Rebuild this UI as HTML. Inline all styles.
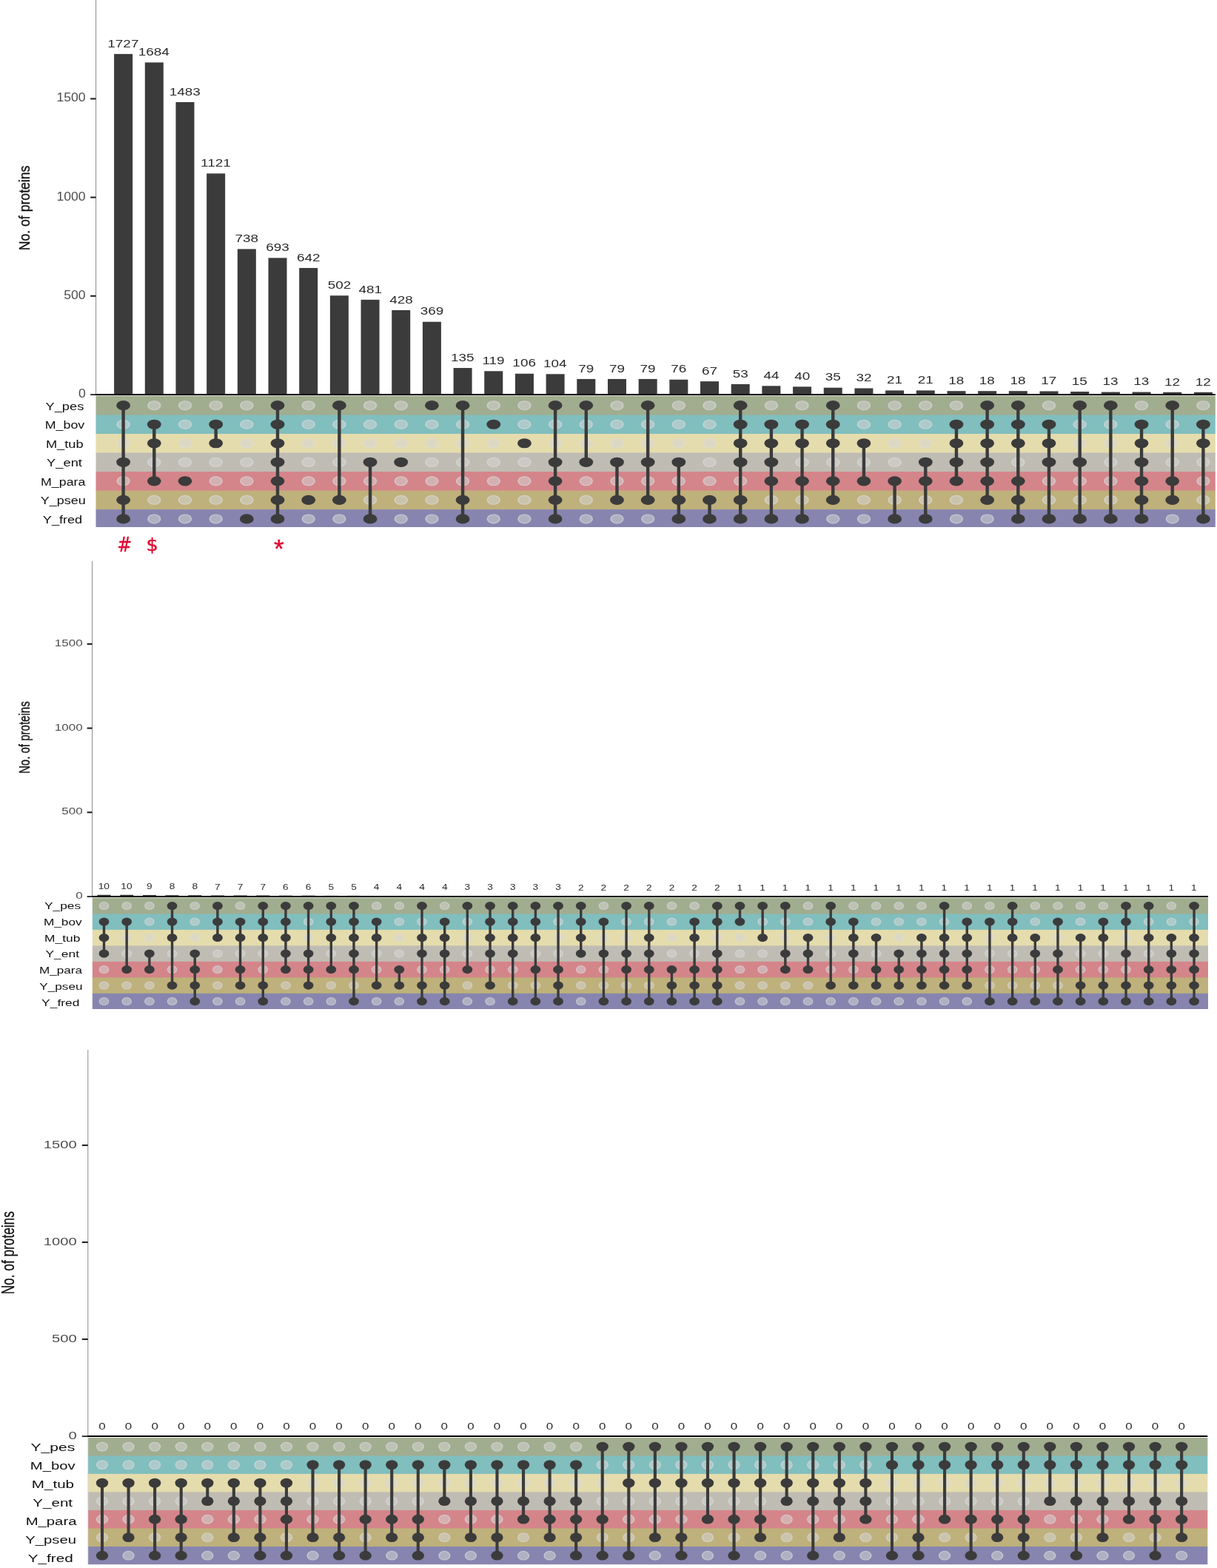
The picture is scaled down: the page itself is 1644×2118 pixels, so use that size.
<!DOCTYPE html>
<html lang="en"><head><meta charset="utf-8"><title>UpSet plot</title>
<style>
html,body{margin:0;padding:0;background:#fff}
body{width:1644px;height:2118px;overflow:hidden}
svg{display:block;font-family:"Liberation Sans",sans-serif}
</style></head><body>
<svg width="1644" height="2118" viewBox="0 0 1644 2118">
<defs><radialGradient id="ld"><stop offset="0" stop-color="#d4d4d4" stop-opacity=".54"/><stop offset=".72" stop-color="#d4d4d4" stop-opacity=".54"/><stop offset=".86" stop-color="#dadada" stop-opacity=".74"/><stop offset="1" stop-color="#dadada" stop-opacity=".74"/></radialGradient></defs>
<rect width="1644" height="2118" fill="#fff"/>
<rect x="129.5" y="534.6" width="1512.3" height="26.57" fill="#A1AD8F"/>
<rect x="129.5" y="560.47" width="1512.3" height="26.23" fill="#81BEBE"/>
<rect x="129.5" y="586" width="1512.3" height="26.23" fill="#E5DCAD"/>
<rect x="129.5" y="611.53" width="1512.3" height="26.23" fill="#BFBDB3"/>
<rect x="129.5" y="637.06" width="1512.3" height="26.23" fill="#D4858A"/>
<rect x="129.5" y="662.59" width="1512.3" height="26.23" fill="#BFB17B"/>
<rect x="129.5" y="688.12" width="1512.3" height="23.88" fill="#8785AF"/>
<rect x="129.1" y="0" width="1" height="533" fill="#8a8a8a"/>
<rect x="122.2" y="532.2" width="7.4" height="1.8" fill="#222"/>
<rect x="122.2" y="398.75" width="7.4" height="2.1" fill="#222"/>
<rect x="122.2" y="265.55" width="7.4" height="2.1" fill="#222"/>
<rect x="122.2" y="132.35" width="7.4" height="2.1" fill="#222"/>
<rect x="154.1" y="72.93" width="25" height="460.07" fill="#3b3b3b"/>
<rect x="195.78" y="84.38" width="25" height="448.62" fill="#3b3b3b"/>
<rect x="237.46" y="137.93" width="25" height="395.07" fill="#3b3b3b"/>
<rect x="279.14" y="234.37" width="25" height="298.63" fill="#3b3b3b"/>
<rect x="320.82" y="336.4" width="25" height="196.6" fill="#3b3b3b"/>
<rect x="362.5" y="348.38" width="25" height="184.62" fill="#3b3b3b"/>
<rect x="404.18" y="361.97" width="25" height="171.03" fill="#3b3b3b"/>
<rect x="445.86" y="399.27" width="25" height="133.73" fill="#3b3b3b"/>
<rect x="487.54" y="404.86" width="25" height="128.14" fill="#3b3b3b"/>
<rect x="529.22" y="418.98" width="25" height="114.02" fill="#3b3b3b"/>
<rect x="570.9" y="434.7" width="25" height="98.3" fill="#3b3b3b"/>
<rect x="612.58" y="497.04" width="25" height="35.96" fill="#3b3b3b"/>
<rect x="654.26" y="501.3" width="25" height="31.7" fill="#3b3b3b"/>
<rect x="695.94" y="504.76" width="25" height="28.24" fill="#3b3b3b"/>
<rect x="737.62" y="505.29" width="25" height="27.71" fill="#3b3b3b"/>
<rect x="779.3" y="511.95" width="25" height="21.05" fill="#3b3b3b"/>
<rect x="820.98" y="511.95" width="25" height="21.05" fill="#3b3b3b"/>
<rect x="862.66" y="511.95" width="25" height="21.05" fill="#3b3b3b"/>
<rect x="904.34" y="512.75" width="25" height="20.25" fill="#3b3b3b"/>
<rect x="946.02" y="515.15" width="25" height="17.85" fill="#3b3b3b"/>
<rect x="987.7" y="518.88" width="25" height="14.12" fill="#3b3b3b"/>
<rect x="1029.38" y="521.28" width="25" height="11.72" fill="#3b3b3b"/>
<rect x="1071.06" y="522.34" width="25" height="10.66" fill="#3b3b3b"/>
<rect x="1112.74" y="523.68" width="25" height="9.32" fill="#3b3b3b"/>
<rect x="1154.42" y="524.48" width="25" height="8.52" fill="#3b3b3b"/>
<rect x="1196.1" y="527.41" width="25" height="5.59" fill="#3b3b3b"/>
<rect x="1237.78" y="527.41" width="25" height="5.59" fill="#3b3b3b"/>
<rect x="1279.46" y="528.2" width="25" height="4.8" fill="#3b3b3b"/>
<rect x="1321.14" y="528.2" width="25" height="4.8" fill="#3b3b3b"/>
<rect x="1362.82" y="528.2" width="25" height="4.8" fill="#3b3b3b"/>
<rect x="1404.5" y="528.47" width="25" height="4.53" fill="#3b3b3b"/>
<rect x="1446.18" y="529" width="25" height="4" fill="#3b3b3b"/>
<rect x="1487.86" y="529.54" width="25" height="3.46" fill="#3b3b3b"/>
<rect x="1529.54" y="529.54" width="25" height="3.46" fill="#3b3b3b"/>
<rect x="1571.22" y="529.8" width="25" height="3.2" fill="#3b3b3b"/>
<rect x="1612.9" y="529.8" width="25" height="3.2" fill="#3b3b3b"/>
<rect x="129.1" y="532" width="1512.7" height="2" fill="#000"/>
<g fill="url(#ld)"><ellipse cx="166.6" cy="573.23" rx="9.2" ry="6.5"/><ellipse cx="166.6" cy="598.76" rx="9.2" ry="6.5"/><ellipse cx="166.6" cy="649.82" rx="9.2" ry="6.5"/><ellipse cx="208.28" cy="547.7" rx="9.2" ry="6.5"/><ellipse cx="208.28" cy="624.29" rx="9.2" ry="6.5"/><ellipse cx="208.28" cy="675.35" rx="9.2" ry="6.5"/><ellipse cx="208.28" cy="700.88" rx="9.2" ry="6.5"/><ellipse cx="249.96" cy="547.7" rx="9.2" ry="6.5"/><ellipse cx="249.96" cy="573.23" rx="9.2" ry="6.5"/><ellipse cx="249.96" cy="598.76" rx="9.2" ry="6.5"/><ellipse cx="249.96" cy="624.29" rx="9.2" ry="6.5"/><ellipse cx="249.96" cy="675.35" rx="9.2" ry="6.5"/><ellipse cx="249.96" cy="700.88" rx="9.2" ry="6.5"/><ellipse cx="291.64" cy="547.7" rx="9.2" ry="6.5"/><ellipse cx="291.64" cy="624.29" rx="9.2" ry="6.5"/><ellipse cx="291.64" cy="649.82" rx="9.2" ry="6.5"/><ellipse cx="291.64" cy="675.35" rx="9.2" ry="6.5"/><ellipse cx="291.64" cy="700.88" rx="9.2" ry="6.5"/><ellipse cx="333.32" cy="547.7" rx="9.2" ry="6.5"/><ellipse cx="333.32" cy="573.23" rx="9.2" ry="6.5"/><ellipse cx="333.32" cy="598.76" rx="9.2" ry="6.5"/><ellipse cx="333.32" cy="624.29" rx="9.2" ry="6.5"/><ellipse cx="333.32" cy="649.82" rx="9.2" ry="6.5"/><ellipse cx="333.32" cy="675.35" rx="9.2" ry="6.5"/><ellipse cx="416.68" cy="547.7" rx="9.2" ry="6.5"/><ellipse cx="416.68" cy="573.23" rx="9.2" ry="6.5"/><ellipse cx="416.68" cy="598.76" rx="9.2" ry="6.5"/><ellipse cx="416.68" cy="624.29" rx="9.2" ry="6.5"/><ellipse cx="416.68" cy="649.82" rx="9.2" ry="6.5"/><ellipse cx="416.68" cy="700.88" rx="9.2" ry="6.5"/><ellipse cx="458.36" cy="573.23" rx="9.2" ry="6.5"/><ellipse cx="458.36" cy="598.76" rx="9.2" ry="6.5"/><ellipse cx="458.36" cy="624.29" rx="9.2" ry="6.5"/><ellipse cx="458.36" cy="649.82" rx="9.2" ry="6.5"/><ellipse cx="458.36" cy="700.88" rx="9.2" ry="6.5"/><ellipse cx="500.04" cy="547.7" rx="9.2" ry="6.5"/><ellipse cx="500.04" cy="573.23" rx="9.2" ry="6.5"/><ellipse cx="500.04" cy="598.76" rx="9.2" ry="6.5"/><ellipse cx="500.04" cy="649.82" rx="9.2" ry="6.5"/><ellipse cx="500.04" cy="675.35" rx="9.2" ry="6.5"/><ellipse cx="541.72" cy="547.7" rx="9.2" ry="6.5"/><ellipse cx="541.72" cy="573.23" rx="9.2" ry="6.5"/><ellipse cx="541.72" cy="598.76" rx="9.2" ry="6.5"/><ellipse cx="541.72" cy="649.82" rx="9.2" ry="6.5"/><ellipse cx="541.72" cy="675.35" rx="9.2" ry="6.5"/><ellipse cx="541.72" cy="700.88" rx="9.2" ry="6.5"/><ellipse cx="583.4" cy="573.23" rx="9.2" ry="6.5"/><ellipse cx="583.4" cy="598.76" rx="9.2" ry="6.5"/><ellipse cx="583.4" cy="624.29" rx="9.2" ry="6.5"/><ellipse cx="583.4" cy="649.82" rx="9.2" ry="6.5"/><ellipse cx="583.4" cy="675.35" rx="9.2" ry="6.5"/><ellipse cx="583.4" cy="700.88" rx="9.2" ry="6.5"/><ellipse cx="625.08" cy="573.23" rx="9.2" ry="6.5"/><ellipse cx="625.08" cy="598.76" rx="9.2" ry="6.5"/><ellipse cx="625.08" cy="624.29" rx="9.2" ry="6.5"/><ellipse cx="625.08" cy="649.82" rx="9.2" ry="6.5"/><ellipse cx="666.76" cy="547.7" rx="9.2" ry="6.5"/><ellipse cx="666.76" cy="598.76" rx="9.2" ry="6.5"/><ellipse cx="666.76" cy="624.29" rx="9.2" ry="6.5"/><ellipse cx="666.76" cy="649.82" rx="9.2" ry="6.5"/><ellipse cx="666.76" cy="675.35" rx="9.2" ry="6.5"/><ellipse cx="666.76" cy="700.88" rx="9.2" ry="6.5"/><ellipse cx="708.44" cy="547.7" rx="9.2" ry="6.5"/><ellipse cx="708.44" cy="573.23" rx="9.2" ry="6.5"/><ellipse cx="708.44" cy="624.29" rx="9.2" ry="6.5"/><ellipse cx="708.44" cy="649.82" rx="9.2" ry="6.5"/><ellipse cx="708.44" cy="675.35" rx="9.2" ry="6.5"/><ellipse cx="708.44" cy="700.88" rx="9.2" ry="6.5"/><ellipse cx="750.12" cy="573.23" rx="9.2" ry="6.5"/><ellipse cx="750.12" cy="598.76" rx="9.2" ry="6.5"/><ellipse cx="791.8" cy="573.23" rx="9.2" ry="6.5"/><ellipse cx="791.8" cy="598.76" rx="9.2" ry="6.5"/><ellipse cx="791.8" cy="649.82" rx="9.2" ry="6.5"/><ellipse cx="791.8" cy="675.35" rx="9.2" ry="6.5"/><ellipse cx="791.8" cy="700.88" rx="9.2" ry="6.5"/><ellipse cx="833.48" cy="547.7" rx="9.2" ry="6.5"/><ellipse cx="833.48" cy="573.23" rx="9.2" ry="6.5"/><ellipse cx="833.48" cy="598.76" rx="9.2" ry="6.5"/><ellipse cx="833.48" cy="649.82" rx="9.2" ry="6.5"/><ellipse cx="833.48" cy="700.88" rx="9.2" ry="6.5"/><ellipse cx="875.16" cy="573.23" rx="9.2" ry="6.5"/><ellipse cx="875.16" cy="598.76" rx="9.2" ry="6.5"/><ellipse cx="875.16" cy="649.82" rx="9.2" ry="6.5"/><ellipse cx="875.16" cy="700.88" rx="9.2" ry="6.5"/><ellipse cx="916.84" cy="547.7" rx="9.2" ry="6.5"/><ellipse cx="916.84" cy="573.23" rx="9.2" ry="6.5"/><ellipse cx="916.84" cy="598.76" rx="9.2" ry="6.5"/><ellipse cx="916.84" cy="649.82" rx="9.2" ry="6.5"/><ellipse cx="958.52" cy="547.7" rx="9.2" ry="6.5"/><ellipse cx="958.52" cy="573.23" rx="9.2" ry="6.5"/><ellipse cx="958.52" cy="598.76" rx="9.2" ry="6.5"/><ellipse cx="958.52" cy="624.29" rx="9.2" ry="6.5"/><ellipse cx="958.52" cy="649.82" rx="9.2" ry="6.5"/><ellipse cx="1000.2" cy="649.82" rx="9.2" ry="6.5"/><ellipse cx="1041.88" cy="547.7" rx="9.2" ry="6.5"/><ellipse cx="1041.88" cy="675.35" rx="9.2" ry="6.5"/><ellipse cx="1083.56" cy="547.7" rx="9.2" ry="6.5"/><ellipse cx="1083.56" cy="624.29" rx="9.2" ry="6.5"/><ellipse cx="1083.56" cy="675.35" rx="9.2" ry="6.5"/><ellipse cx="1125.24" cy="624.29" rx="9.2" ry="6.5"/><ellipse cx="1125.24" cy="700.88" rx="9.2" ry="6.5"/><ellipse cx="1166.92" cy="547.7" rx="9.2" ry="6.5"/><ellipse cx="1166.92" cy="573.23" rx="9.2" ry="6.5"/><ellipse cx="1166.92" cy="624.29" rx="9.2" ry="6.5"/><ellipse cx="1166.92" cy="675.35" rx="9.2" ry="6.5"/><ellipse cx="1166.92" cy="700.88" rx="9.2" ry="6.5"/><ellipse cx="1208.6" cy="547.7" rx="9.2" ry="6.5"/><ellipse cx="1208.6" cy="573.23" rx="9.2" ry="6.5"/><ellipse cx="1208.6" cy="598.76" rx="9.2" ry="6.5"/><ellipse cx="1208.6" cy="624.29" rx="9.2" ry="6.5"/><ellipse cx="1208.6" cy="675.35" rx="9.2" ry="6.5"/><ellipse cx="1250.28" cy="547.7" rx="9.2" ry="6.5"/><ellipse cx="1250.28" cy="573.23" rx="9.2" ry="6.5"/><ellipse cx="1250.28" cy="598.76" rx="9.2" ry="6.5"/><ellipse cx="1250.28" cy="675.35" rx="9.2" ry="6.5"/><ellipse cx="1291.96" cy="547.7" rx="9.2" ry="6.5"/><ellipse cx="1291.96" cy="675.35" rx="9.2" ry="6.5"/><ellipse cx="1291.96" cy="700.88" rx="9.2" ry="6.5"/><ellipse cx="1333.64" cy="700.88" rx="9.2" ry="6.5"/><ellipse cx="1375.32" cy="624.29" rx="9.2" ry="6.5"/><ellipse cx="1417" cy="547.7" rx="9.2" ry="6.5"/><ellipse cx="1417" cy="649.82" rx="9.2" ry="6.5"/><ellipse cx="1417" cy="675.35" rx="9.2" ry="6.5"/><ellipse cx="1458.68" cy="573.23" rx="9.2" ry="6.5"/><ellipse cx="1458.68" cy="598.76" rx="9.2" ry="6.5"/><ellipse cx="1458.68" cy="649.82" rx="9.2" ry="6.5"/><ellipse cx="1458.68" cy="675.35" rx="9.2" ry="6.5"/><ellipse cx="1500.36" cy="573.23" rx="9.2" ry="6.5"/><ellipse cx="1500.36" cy="598.76" rx="9.2" ry="6.5"/><ellipse cx="1500.36" cy="624.29" rx="9.2" ry="6.5"/><ellipse cx="1500.36" cy="649.82" rx="9.2" ry="6.5"/><ellipse cx="1500.36" cy="675.35" rx="9.2" ry="6.5"/><ellipse cx="1542.04" cy="547.7" rx="9.2" ry="6.5"/><ellipse cx="1583.72" cy="573.23" rx="9.2" ry="6.5"/><ellipse cx="1583.72" cy="598.76" rx="9.2" ry="6.5"/><ellipse cx="1583.72" cy="624.29" rx="9.2" ry="6.5"/><ellipse cx="1583.72" cy="700.88" rx="9.2" ry="6.5"/><ellipse cx="1625.4" cy="547.7" rx="9.2" ry="6.5"/><ellipse cx="1625.4" cy="624.29" rx="9.2" ry="6.5"/><ellipse cx="1625.4" cy="649.82" rx="9.2" ry="6.5"/><ellipse cx="1625.4" cy="675.35" rx="9.2" ry="6.5"/></g>
<g fill="#3b3b3b"><rect x="164.4" y="547.7" width="4.4" height="153.18"/><ellipse cx="166.6" cy="547.7" rx="9.4" ry="6.6"/><ellipse cx="166.6" cy="624.29" rx="9.4" ry="6.6"/><ellipse cx="166.6" cy="675.35" rx="9.4" ry="6.6"/><ellipse cx="166.6" cy="700.88" rx="9.4" ry="6.6"/><rect x="206.08" y="573.23" width="4.4" height="76.59"/><ellipse cx="208.28" cy="573.23" rx="9.4" ry="6.6"/><ellipse cx="208.28" cy="598.76" rx="9.4" ry="6.6"/><ellipse cx="208.28" cy="649.82" rx="9.4" ry="6.6"/><ellipse cx="249.96" cy="649.82" rx="9.4" ry="6.6"/><rect x="289.44" y="573.23" width="4.4" height="25.53"/><ellipse cx="291.64" cy="573.23" rx="9.4" ry="6.6"/><ellipse cx="291.64" cy="598.76" rx="9.4" ry="6.6"/><ellipse cx="333.32" cy="700.88" rx="9.4" ry="6.6"/><rect x="372.8" y="547.7" width="4.4" height="153.18"/><ellipse cx="375" cy="547.7" rx="9.4" ry="6.6"/><ellipse cx="375" cy="573.23" rx="9.4" ry="6.6"/><ellipse cx="375" cy="598.76" rx="9.4" ry="6.6"/><ellipse cx="375" cy="624.29" rx="9.4" ry="6.6"/><ellipse cx="375" cy="649.82" rx="9.4" ry="6.6"/><ellipse cx="375" cy="675.35" rx="9.4" ry="6.6"/><ellipse cx="375" cy="700.88" rx="9.4" ry="6.6"/><ellipse cx="416.68" cy="675.35" rx="9.4" ry="6.6"/><rect x="456.16" y="547.7" width="4.4" height="127.65"/><ellipse cx="458.36" cy="547.7" rx="9.4" ry="6.6"/><ellipse cx="458.36" cy="675.35" rx="9.4" ry="6.6"/><rect x="497.84" y="624.29" width="4.4" height="76.59"/><ellipse cx="500.04" cy="624.29" rx="9.4" ry="6.6"/><ellipse cx="500.04" cy="700.88" rx="9.4" ry="6.6"/><ellipse cx="541.72" cy="624.29" rx="9.4" ry="6.6"/><ellipse cx="583.4" cy="547.7" rx="9.4" ry="6.6"/><rect x="622.88" y="547.7" width="4.4" height="153.18"/><ellipse cx="625.08" cy="547.7" rx="9.4" ry="6.6"/><ellipse cx="625.08" cy="675.35" rx="9.4" ry="6.6"/><ellipse cx="625.08" cy="700.88" rx="9.4" ry="6.6"/><ellipse cx="666.76" cy="573.23" rx="9.4" ry="6.6"/><ellipse cx="708.44" cy="598.76" rx="9.4" ry="6.6"/><rect x="747.92" y="547.7" width="4.4" height="153.18"/><ellipse cx="750.12" cy="547.7" rx="9.4" ry="6.6"/><ellipse cx="750.12" cy="624.29" rx="9.4" ry="6.6"/><ellipse cx="750.12" cy="649.82" rx="9.4" ry="6.6"/><ellipse cx="750.12" cy="675.35" rx="9.4" ry="6.6"/><ellipse cx="750.12" cy="700.88" rx="9.4" ry="6.6"/><rect x="789.6" y="547.7" width="4.4" height="76.59"/><ellipse cx="791.8" cy="547.7" rx="9.4" ry="6.6"/><ellipse cx="791.8" cy="624.29" rx="9.4" ry="6.6"/><rect x="831.28" y="624.29" width="4.4" height="51.06"/><ellipse cx="833.48" cy="624.29" rx="9.4" ry="6.6"/><ellipse cx="833.48" cy="675.35" rx="9.4" ry="6.6"/><rect x="872.96" y="547.7" width="4.4" height="127.65"/><ellipse cx="875.16" cy="547.7" rx="9.4" ry="6.6"/><ellipse cx="875.16" cy="624.29" rx="9.4" ry="6.6"/><ellipse cx="875.16" cy="675.35" rx="9.4" ry="6.6"/><rect x="914.64" y="624.29" width="4.4" height="76.59"/><ellipse cx="916.84" cy="624.29" rx="9.4" ry="6.6"/><ellipse cx="916.84" cy="675.35" rx="9.4" ry="6.6"/><ellipse cx="916.84" cy="700.88" rx="9.4" ry="6.6"/><rect x="956.32" y="675.35" width="4.4" height="25.53"/><ellipse cx="958.52" cy="675.35" rx="9.4" ry="6.6"/><ellipse cx="958.52" cy="700.88" rx="9.4" ry="6.6"/><rect x="998" y="547.7" width="4.4" height="153.18"/><ellipse cx="1000.2" cy="547.7" rx="9.4" ry="6.6"/><ellipse cx="1000.2" cy="573.23" rx="9.4" ry="6.6"/><ellipse cx="1000.2" cy="598.76" rx="9.4" ry="6.6"/><ellipse cx="1000.2" cy="624.29" rx="9.4" ry="6.6"/><ellipse cx="1000.2" cy="675.35" rx="9.4" ry="6.6"/><ellipse cx="1000.2" cy="700.88" rx="9.4" ry="6.6"/><rect x="1039.68" y="573.23" width="4.4" height="127.65"/><ellipse cx="1041.88" cy="573.23" rx="9.4" ry="6.6"/><ellipse cx="1041.88" cy="598.76" rx="9.4" ry="6.6"/><ellipse cx="1041.88" cy="624.29" rx="9.4" ry="6.6"/><ellipse cx="1041.88" cy="649.82" rx="9.4" ry="6.6"/><ellipse cx="1041.88" cy="700.88" rx="9.4" ry="6.6"/><rect x="1081.36" y="573.23" width="4.4" height="127.65"/><ellipse cx="1083.56" cy="573.23" rx="9.4" ry="6.6"/><ellipse cx="1083.56" cy="598.76" rx="9.4" ry="6.6"/><ellipse cx="1083.56" cy="649.82" rx="9.4" ry="6.6"/><ellipse cx="1083.56" cy="700.88" rx="9.4" ry="6.6"/><rect x="1123.04" y="547.7" width="4.4" height="127.65"/><ellipse cx="1125.24" cy="547.7" rx="9.4" ry="6.6"/><ellipse cx="1125.24" cy="573.23" rx="9.4" ry="6.6"/><ellipse cx="1125.24" cy="598.76" rx="9.4" ry="6.6"/><ellipse cx="1125.24" cy="649.82" rx="9.4" ry="6.6"/><ellipse cx="1125.24" cy="675.35" rx="9.4" ry="6.6"/><rect x="1164.72" y="598.76" width="4.4" height="51.06"/><ellipse cx="1166.92" cy="598.76" rx="9.4" ry="6.6"/><ellipse cx="1166.92" cy="649.82" rx="9.4" ry="6.6"/><rect x="1206.4" y="649.82" width="4.4" height="51.06"/><ellipse cx="1208.6" cy="649.82" rx="9.4" ry="6.6"/><ellipse cx="1208.6" cy="700.88" rx="9.4" ry="6.6"/><rect x="1248.08" y="624.29" width="4.4" height="76.59"/><ellipse cx="1250.28" cy="624.29" rx="9.4" ry="6.6"/><ellipse cx="1250.28" cy="649.82" rx="9.4" ry="6.6"/><ellipse cx="1250.28" cy="700.88" rx="9.4" ry="6.6"/><rect x="1289.76" y="573.23" width="4.4" height="76.59"/><ellipse cx="1291.96" cy="573.23" rx="9.4" ry="6.6"/><ellipse cx="1291.96" cy="598.76" rx="9.4" ry="6.6"/><ellipse cx="1291.96" cy="624.29" rx="9.4" ry="6.6"/><ellipse cx="1291.96" cy="649.82" rx="9.4" ry="6.6"/><rect x="1331.44" y="547.7" width="4.4" height="127.65"/><ellipse cx="1333.64" cy="547.7" rx="9.4" ry="6.6"/><ellipse cx="1333.64" cy="573.23" rx="9.4" ry="6.6"/><ellipse cx="1333.64" cy="598.76" rx="9.4" ry="6.6"/><ellipse cx="1333.64" cy="624.29" rx="9.4" ry="6.6"/><ellipse cx="1333.64" cy="649.82" rx="9.4" ry="6.6"/><ellipse cx="1333.64" cy="675.35" rx="9.4" ry="6.6"/><rect x="1373.12" y="547.7" width="4.4" height="153.18"/><ellipse cx="1375.32" cy="547.7" rx="9.4" ry="6.6"/><ellipse cx="1375.32" cy="573.23" rx="9.4" ry="6.6"/><ellipse cx="1375.32" cy="598.76" rx="9.4" ry="6.6"/><ellipse cx="1375.32" cy="649.82" rx="9.4" ry="6.6"/><ellipse cx="1375.32" cy="675.35" rx="9.4" ry="6.6"/><ellipse cx="1375.32" cy="700.88" rx="9.4" ry="6.6"/><rect x="1414.8" y="573.23" width="4.4" height="127.65"/><ellipse cx="1417" cy="573.23" rx="9.4" ry="6.6"/><ellipse cx="1417" cy="598.76" rx="9.4" ry="6.6"/><ellipse cx="1417" cy="624.29" rx="9.4" ry="6.6"/><ellipse cx="1417" cy="700.88" rx="9.4" ry="6.6"/><rect x="1456.48" y="547.7" width="4.4" height="153.18"/><ellipse cx="1458.68" cy="547.7" rx="9.4" ry="6.6"/><ellipse cx="1458.68" cy="624.29" rx="9.4" ry="6.6"/><ellipse cx="1458.68" cy="700.88" rx="9.4" ry="6.6"/><rect x="1498.16" y="547.7" width="4.4" height="153.18"/><ellipse cx="1500.36" cy="547.7" rx="9.4" ry="6.6"/><ellipse cx="1500.36" cy="700.88" rx="9.4" ry="6.6"/><rect x="1539.84" y="573.23" width="4.4" height="127.65"/><ellipse cx="1542.04" cy="573.23" rx="9.4" ry="6.6"/><ellipse cx="1542.04" cy="598.76" rx="9.4" ry="6.6"/><ellipse cx="1542.04" cy="624.29" rx="9.4" ry="6.6"/><ellipse cx="1542.04" cy="649.82" rx="9.4" ry="6.6"/><ellipse cx="1542.04" cy="675.35" rx="9.4" ry="6.6"/><ellipse cx="1542.04" cy="700.88" rx="9.4" ry="6.6"/><rect x="1581.52" y="547.7" width="4.4" height="127.65"/><ellipse cx="1583.72" cy="547.7" rx="9.4" ry="6.6"/><ellipse cx="1583.72" cy="649.82" rx="9.4" ry="6.6"/><ellipse cx="1583.72" cy="675.35" rx="9.4" ry="6.6"/><rect x="1623.2" y="573.23" width="4.4" height="127.65"/><ellipse cx="1625.4" cy="573.23" rx="9.4" ry="6.6"/><ellipse cx="1625.4" cy="598.76" rx="9.4" ry="6.6"/><ellipse cx="1625.4" cy="700.88" rx="9.4" ry="6.6"/></g>
<text transform="matrix(1.37 0 0 1 145.35 63.63)" font-size="13.8" fill="#2b2b2b">1727</text>
<text transform="matrix(1.37 0 0 1 186.82 75.08)" font-size="13.8" fill="#2b2b2b">1684</text>
<text transform="matrix(1.37 0 0 1 228.64 128.63)" font-size="13.8" fill="#2b2b2b">1483</text>
<text transform="matrix(1.37 0 0 1 271.06 225.07)" font-size="13.8" fill="#2b2b2b">1121</text>
<text transform="matrix(1.37 0 0 1 317.46 327.1)" font-size="13.8" fill="#2b2b2b">738</text>
<text transform="matrix(1.37 0 0 1 359.17 339.08)" font-size="13.8" fill="#2b2b2b">693</text>
<text transform="matrix(1.37 0 0 1 400.92 352.67)" font-size="13.8" fill="#2b2b2b">642</text>
<text transform="matrix(1.37 0 0 1 442.69 389.97)" font-size="13.8" fill="#2b2b2b">502</text>
<text transform="matrix(1.37 0 0 1 484.51 395.56)" font-size="13.8" fill="#2b2b2b">481</text>
<text transform="matrix(1.37 0 0 1 526.15 409.68)" font-size="13.8" fill="#2b2b2b">428</text>
<text transform="matrix(1.37 0 0 1 567.71 425.4)" font-size="13.8" fill="#2b2b2b">369</text>
<text transform="matrix(1.37 0 0 1 608.99 487.74)" font-size="13.8" fill="#2b2b2b">135</text>
<text transform="matrix(1.37 0 0 1 651.42 492)" font-size="13.8" fill="#2b2b2b">119</text>
<text transform="matrix(1.37 0 0 1 692.37 495.46)" font-size="13.8" fill="#2b2b2b">106</text>
<text transform="matrix(1.37 0 0 1 733.91 495.99)" font-size="13.8" fill="#2b2b2b">104</text>
<text transform="matrix(1.37 0 0 1 781.24 502.65)" font-size="13.8" fill="#2b2b2b">79</text>
<text transform="matrix(1.37 0 0 1 822.92 502.65)" font-size="13.8" fill="#2b2b2b">79</text>
<text transform="matrix(1.37 0 0 1 864.6 502.65)" font-size="13.8" fill="#2b2b2b">79</text>
<text transform="matrix(1.37 0 0 1 906.25 503.45)" font-size="13.8" fill="#2b2b2b">76</text>
<text transform="matrix(1.37 0 0 1 948.03 505.85)" font-size="13.8" fill="#2b2b2b">67</text>
<text transform="matrix(1.37 0 0 1 989.73 509.58)" font-size="13.8" fill="#2b2b2b">53</text>
<text transform="matrix(1.37 0 0 1 1031.43 511.98)" font-size="13.8" fill="#2b2b2b">44</text>
<text transform="matrix(1.37 0 0 1 1073.21 513.04)" font-size="13.8" fill="#2b2b2b">40</text>
<text transform="matrix(1.37 0 0 1 1114.77 514.38)" font-size="13.8" fill="#2b2b2b">35</text>
<text transform="matrix(1.37 0 0 1 1156.55 515.18)" font-size="13.8" fill="#2b2b2b">32</text>
<text transform="matrix(1.37 0 0 1 1198.08 518.11)" font-size="13.8" fill="#2b2b2b">21</text>
<text transform="matrix(1.37 0 0 1 1239.76 518.11)" font-size="13.8" fill="#2b2b2b">21</text>
<text transform="matrix(1.37 0 0 1 1281.16 518.9)" font-size="13.8" fill="#2b2b2b">18</text>
<text transform="matrix(1.37 0 0 1 1322.84 518.9)" font-size="13.8" fill="#2b2b2b">18</text>
<text transform="matrix(1.37 0 0 1 1364.52 518.9)" font-size="13.8" fill="#2b2b2b">18</text>
<text transform="matrix(1.37 0 0 1 1406.27 519.17)" font-size="13.8" fill="#2b2b2b">17</text>
<text transform="matrix(1.37 0 0 1 1447.86 519.7)" font-size="13.8" fill="#2b2b2b">15</text>
<text transform="matrix(1.37 0 0 1 1489.56 520.24)" font-size="13.8" fill="#2b2b2b">13</text>
<text transform="matrix(1.37 0 0 1 1531.24 520.24)" font-size="13.8" fill="#2b2b2b">13</text>
<text transform="matrix(1.37 0 0 1 1572.99 520.5)" font-size="13.8" fill="#2b2b2b">12</text>
<text transform="matrix(1.37 0 0 1 1614.67 520.5)" font-size="13.8" fill="#2b2b2b">12</text>
<text transform="matrix(1.13 0 0 1 105.88 536.96)" font-size="15.6" fill="#4d4d4d">0</text>
<text transform="matrix(1.13 0 0 1 86.27 403.76)" font-size="15.6" fill="#4d4d4d">500</text>
<text transform="matrix(1.13 0 0 1 76.48 270.56)" font-size="15.6" fill="#4d4d4d">1000</text>
<text transform="matrix(1.13 0 0 1 76.48 137.36)" font-size="15.6" fill="#4d4d4d">1500</text>
<text transform="matrix(1.22 0 0 1 61.49 553.8)" font-size="15" fill="#111">Y_pes</text>
<text transform="matrix(1.19 0 0 1 60.73 579.33)" font-size="15" fill="#111">M_bov</text>
<text transform="matrix(1.22 0 0 1 61.89 604.86)" font-size="15" fill="#111">M_tub</text>
<text transform="matrix(1.22 0 0 1 63.09 630.39)" font-size="15" fill="#111">Y_ent</text>
<text transform="matrix(1.19 0 0 1 55.02 655.92)" font-size="15" fill="#111">M_para</text>
<text transform="matrix(1.2 0 0 1 54.79 681.45)" font-size="15" fill="#111">Y_pseu</text>
<text transform="matrix(1.21 0 0 1 57.79 706.98)" font-size="15" fill="#111">Y_fred</text>
<text transform="matrix(0 -0.84 1 0 40.34 338.36)" font-size="21.02" fill="#111" stroke="#111" stroke-width=".35">No. of proteins</text>
<text transform="matrix(0.9 0 0 1 158.36 745.2)" font-size="26.48" fill="#e00a33" stroke="#e00a33" stroke-width=".45" stroke-linejoin="round" font-family="DejaVu Sans, Liberation Sans, sans-serif">#</text>
<text transform="matrix(1.08 0 0 1 197.58 744.29)" font-size="23.8" fill="#e00a33" stroke="#e00a33" stroke-width=".45" stroke-linejoin="round" font-family="DejaVu Sans, Liberation Sans, sans-serif">$</text>
<text transform="matrix(1 0 0 1 369.89 753.46)" font-size="34.86" fill="#e00a33" stroke="#e00a33" stroke-width=".45" stroke-linejoin="round">*</text>
<rect x="124.8" y="1212.6" width="1507.2" height="22.45" fill="#A1AD8F"/>
<rect x="124.8" y="1234.35" width="1507.2" height="22.2" fill="#81BEBE"/>
<rect x="124.8" y="1255.85" width="1507.2" height="22.2" fill="#E5DCAD"/>
<rect x="124.8" y="1277.35" width="1507.2" height="22.2" fill="#BFBDB3"/>
<rect x="124.8" y="1298.85" width="1507.2" height="22.2" fill="#D4858A"/>
<rect x="124.8" y="1320.35" width="1507.2" height="22.2" fill="#BFB17B"/>
<rect x="124.8" y="1341.85" width="1507.2" height="21.15" fill="#8785AF"/>
<rect x="124.1" y="758" width="1" height="453" fill="#8a8a8a"/>
<rect x="117.6" y="1210.2" width="7" height="1.8" fill="#222"/>
<rect x="117.6" y="1096.25" width="7" height="2.1" fill="#222"/>
<rect x="117.6" y="982.55" width="7" height="2.1" fill="#222"/>
<rect x="117.6" y="868.85" width="7" height="2.1" fill="#222"/>
<rect x="131.5" y="1208.73" width="18" height="2.27" fill="#3b3b3b"/>
<rect x="162.18" y="1208.73" width="18" height="2.27" fill="#3b3b3b"/>
<rect x="192.86" y="1208.95" width="18" height="2.05" fill="#3b3b3b"/>
<rect x="223.53" y="1209.18" width="18" height="1.82" fill="#3b3b3b"/>
<rect x="254.21" y="1209.18" width="18" height="1.82" fill="#3b3b3b"/>
<rect x="284.89" y="1209.41" width="18" height="1.59" fill="#3b3b3b"/>
<rect x="315.57" y="1209.41" width="18" height="1.59" fill="#3b3b3b"/>
<rect x="346.25" y="1209.41" width="18" height="1.59" fill="#3b3b3b"/>
<rect x="376.92" y="1209.64" width="18" height="1.36" fill="#3b3b3b"/>
<rect x="407.6" y="1209.64" width="18" height="1.36" fill="#3b3b3b"/>
<rect x="438.28" y="1209.86" width="18" height="1.14" fill="#3b3b3b"/>
<rect x="468.96" y="1209.86" width="18" height="1.14" fill="#3b3b3b"/>
<rect x="499.64" y="1210.09" width="18" height="0.91" fill="#3b3b3b"/>
<rect x="530.31" y="1210.09" width="18" height="0.91" fill="#3b3b3b"/>
<rect x="560.99" y="1210.09" width="18" height="0.91" fill="#3b3b3b"/>
<rect x="591.67" y="1210.09" width="18" height="0.91" fill="#3b3b3b"/>
<rect x="622.35" y="1210.32" width="18" height="0.68" fill="#3b3b3b"/>
<rect x="653.03" y="1210.32" width="18" height="0.68" fill="#3b3b3b"/>
<rect x="683.7" y="1210.32" width="18" height="0.68" fill="#3b3b3b"/>
<rect x="714.38" y="1210.32" width="18" height="0.68" fill="#3b3b3b"/>
<rect x="745.06" y="1210.32" width="18" height="0.68" fill="#3b3b3b"/>
<rect x="775.74" y="1210.55" width="18" height="0.45" fill="#3b3b3b"/>
<rect x="806.42" y="1210.55" width="18" height="0.45" fill="#3b3b3b"/>
<rect x="837.09" y="1210.55" width="18" height="0.45" fill="#3b3b3b"/>
<rect x="867.77" y="1210.55" width="18" height="0.45" fill="#3b3b3b"/>
<rect x="898.45" y="1210.55" width="18" height="0.45" fill="#3b3b3b"/>
<rect x="929.13" y="1210.55" width="18" height="0.45" fill="#3b3b3b"/>
<rect x="959.81" y="1210.55" width="18" height="0.45" fill="#3b3b3b"/>
<rect x="990.48" y="1210.77" width="18" height="0.23" fill="#3b3b3b"/>
<rect x="1021.16" y="1210.77" width="18" height="0.23" fill="#3b3b3b"/>
<rect x="1051.84" y="1210.77" width="18" height="0.23" fill="#3b3b3b"/>
<rect x="1082.52" y="1210.77" width="18" height="0.23" fill="#3b3b3b"/>
<rect x="1113.2" y="1210.77" width="18" height="0.23" fill="#3b3b3b"/>
<rect x="1143.87" y="1210.77" width="18" height="0.23" fill="#3b3b3b"/>
<rect x="1174.55" y="1210.77" width="18" height="0.23" fill="#3b3b3b"/>
<rect x="1205.23" y="1210.77" width="18" height="0.23" fill="#3b3b3b"/>
<rect x="1235.91" y="1210.77" width="18" height="0.23" fill="#3b3b3b"/>
<rect x="1266.59" y="1210.77" width="18" height="0.23" fill="#3b3b3b"/>
<rect x="1297.26" y="1210.77" width="18" height="0.23" fill="#3b3b3b"/>
<rect x="1327.94" y="1210.77" width="18" height="0.23" fill="#3b3b3b"/>
<rect x="1358.62" y="1210.77" width="18" height="0.23" fill="#3b3b3b"/>
<rect x="1389.3" y="1210.77" width="18" height="0.23" fill="#3b3b3b"/>
<rect x="1419.98" y="1210.77" width="18" height="0.23" fill="#3b3b3b"/>
<rect x="1450.65" y="1210.77" width="18" height="0.23" fill="#3b3b3b"/>
<rect x="1481.33" y="1210.77" width="18" height="0.23" fill="#3b3b3b"/>
<rect x="1512.01" y="1210.77" width="18" height="0.23" fill="#3b3b3b"/>
<rect x="1542.69" y="1210.77" width="18" height="0.23" fill="#3b3b3b"/>
<rect x="1573.37" y="1210.77" width="18" height="0.23" fill="#3b3b3b"/>
<rect x="1604.04" y="1210.77" width="18" height="0.23" fill="#3b3b3b"/>
<rect x="124.1" y="1210" width="1507.9" height="2" fill="#000"/>
<g fill="url(#ld)"><ellipse cx="140.5" cy="1223.6" rx="6.8" ry="5.5"/><ellipse cx="140.5" cy="1309.6" rx="6.8" ry="5.5"/><ellipse cx="140.5" cy="1331.1" rx="6.8" ry="5.5"/><ellipse cx="140.5" cy="1352.6" rx="6.8" ry="5.5"/><ellipse cx="171.18" cy="1223.6" rx="6.8" ry="5.5"/><ellipse cx="171.18" cy="1266.6" rx="6.8" ry="5.5"/><ellipse cx="171.18" cy="1288.1" rx="6.8" ry="5.5"/><ellipse cx="171.18" cy="1331.1" rx="6.8" ry="5.5"/><ellipse cx="171.18" cy="1352.6" rx="6.8" ry="5.5"/><ellipse cx="201.86" cy="1223.6" rx="6.8" ry="5.5"/><ellipse cx="201.86" cy="1245.1" rx="6.8" ry="5.5"/><ellipse cx="201.86" cy="1266.6" rx="6.8" ry="5.5"/><ellipse cx="201.86" cy="1331.1" rx="6.8" ry="5.5"/><ellipse cx="201.86" cy="1352.6" rx="6.8" ry="5.5"/><ellipse cx="232.53" cy="1288.1" rx="6.8" ry="5.5"/><ellipse cx="232.53" cy="1309.6" rx="6.8" ry="5.5"/><ellipse cx="232.53" cy="1352.6" rx="6.8" ry="5.5"/><ellipse cx="263.21" cy="1223.6" rx="6.8" ry="5.5"/><ellipse cx="263.21" cy="1245.1" rx="6.8" ry="5.5"/><ellipse cx="263.21" cy="1266.6" rx="6.8" ry="5.5"/><ellipse cx="293.89" cy="1288.1" rx="6.8" ry="5.5"/><ellipse cx="293.89" cy="1309.6" rx="6.8" ry="5.5"/><ellipse cx="293.89" cy="1331.1" rx="6.8" ry="5.5"/><ellipse cx="293.89" cy="1352.6" rx="6.8" ry="5.5"/><ellipse cx="324.57" cy="1223.6" rx="6.8" ry="5.5"/><ellipse cx="324.57" cy="1288.1" rx="6.8" ry="5.5"/><ellipse cx="324.57" cy="1352.6" rx="6.8" ry="5.5"/><ellipse cx="355.25" cy="1288.1" rx="6.8" ry="5.5"/><ellipse cx="355.25" cy="1309.6" rx="6.8" ry="5.5"/><ellipse cx="385.92" cy="1331.1" rx="6.8" ry="5.5"/><ellipse cx="385.92" cy="1352.6" rx="6.8" ry="5.5"/><ellipse cx="416.6" cy="1245.1" rx="6.8" ry="5.5"/><ellipse cx="416.6" cy="1266.6" rx="6.8" ry="5.5"/><ellipse cx="416.6" cy="1352.6" rx="6.8" ry="5.5"/><ellipse cx="447.28" cy="1288.1" rx="6.8" ry="5.5"/><ellipse cx="447.28" cy="1331.1" rx="6.8" ry="5.5"/><ellipse cx="447.28" cy="1352.6" rx="6.8" ry="5.5"/><ellipse cx="477.96" cy="1331.1" rx="6.8" ry="5.5"/><ellipse cx="508.64" cy="1223.6" rx="6.8" ry="5.5"/><ellipse cx="508.64" cy="1288.1" rx="6.8" ry="5.5"/><ellipse cx="508.64" cy="1309.6" rx="6.8" ry="5.5"/><ellipse cx="508.64" cy="1352.6" rx="6.8" ry="5.5"/><ellipse cx="539.31" cy="1223.6" rx="6.8" ry="5.5"/><ellipse cx="539.31" cy="1245.1" rx="6.8" ry="5.5"/><ellipse cx="539.31" cy="1266.6" rx="6.8" ry="5.5"/><ellipse cx="539.31" cy="1288.1" rx="6.8" ry="5.5"/><ellipse cx="539.31" cy="1352.6" rx="6.8" ry="5.5"/><ellipse cx="569.99" cy="1245.1" rx="6.8" ry="5.5"/><ellipse cx="569.99" cy="1309.6" rx="6.8" ry="5.5"/><ellipse cx="600.67" cy="1223.6" rx="6.8" ry="5.5"/><ellipse cx="600.67" cy="1309.6" rx="6.8" ry="5.5"/><ellipse cx="631.35" cy="1245.1" rx="6.8" ry="5.5"/><ellipse cx="631.35" cy="1266.6" rx="6.8" ry="5.5"/><ellipse cx="631.35" cy="1288.1" rx="6.8" ry="5.5"/><ellipse cx="631.35" cy="1331.1" rx="6.8" ry="5.5"/><ellipse cx="631.35" cy="1352.6" rx="6.8" ry="5.5"/><ellipse cx="662.03" cy="1309.6" rx="6.8" ry="5.5"/><ellipse cx="662.03" cy="1352.6" rx="6.8" ry="5.5"/><ellipse cx="692.7" cy="1309.6" rx="6.8" ry="5.5"/><ellipse cx="692.7" cy="1331.1" rx="6.8" ry="5.5"/><ellipse cx="723.38" cy="1288.1" rx="6.8" ry="5.5"/><ellipse cx="723.38" cy="1331.1" rx="6.8" ry="5.5"/><ellipse cx="754.06" cy="1245.1" rx="6.8" ry="5.5"/><ellipse cx="754.06" cy="1266.6" rx="6.8" ry="5.5"/><ellipse cx="754.06" cy="1288.1" rx="6.8" ry="5.5"/><ellipse cx="784.74" cy="1309.6" rx="6.8" ry="5.5"/><ellipse cx="784.74" cy="1331.1" rx="6.8" ry="5.5"/><ellipse cx="784.74" cy="1352.6" rx="6.8" ry="5.5"/><ellipse cx="815.42" cy="1223.6" rx="6.8" ry="5.5"/><ellipse cx="815.42" cy="1266.6" rx="6.8" ry="5.5"/><ellipse cx="815.42" cy="1309.6" rx="6.8" ry="5.5"/><ellipse cx="815.42" cy="1331.1" rx="6.8" ry="5.5"/><ellipse cx="846.09" cy="1245.1" rx="6.8" ry="5.5"/><ellipse cx="846.09" cy="1266.6" rx="6.8" ry="5.5"/><ellipse cx="846.09" cy="1331.1" rx="6.8" ry="5.5"/><ellipse cx="876.77" cy="1245.1" rx="6.8" ry="5.5"/><ellipse cx="876.77" cy="1331.1" rx="6.8" ry="5.5"/><ellipse cx="907.45" cy="1223.6" rx="6.8" ry="5.5"/><ellipse cx="907.45" cy="1245.1" rx="6.8" ry="5.5"/><ellipse cx="907.45" cy="1266.6" rx="6.8" ry="5.5"/><ellipse cx="907.45" cy="1288.1" rx="6.8" ry="5.5"/><ellipse cx="938.13" cy="1223.6" rx="6.8" ry="5.5"/><ellipse cx="938.13" cy="1288.1" rx="6.8" ry="5.5"/><ellipse cx="968.81" cy="1266.6" rx="6.8" ry="5.5"/><ellipse cx="999.48" cy="1266.6" rx="6.8" ry="5.5"/><ellipse cx="999.48" cy="1288.1" rx="6.8" ry="5.5"/><ellipse cx="999.48" cy="1309.6" rx="6.8" ry="5.5"/><ellipse cx="999.48" cy="1331.1" rx="6.8" ry="5.5"/><ellipse cx="999.48" cy="1352.6" rx="6.8" ry="5.5"/><ellipse cx="1030.16" cy="1245.1" rx="6.8" ry="5.5"/><ellipse cx="1030.16" cy="1288.1" rx="6.8" ry="5.5"/><ellipse cx="1030.16" cy="1309.6" rx="6.8" ry="5.5"/><ellipse cx="1030.16" cy="1331.1" rx="6.8" ry="5.5"/><ellipse cx="1030.16" cy="1352.6" rx="6.8" ry="5.5"/><ellipse cx="1060.84" cy="1245.1" rx="6.8" ry="5.5"/><ellipse cx="1060.84" cy="1266.6" rx="6.8" ry="5.5"/><ellipse cx="1060.84" cy="1331.1" rx="6.8" ry="5.5"/><ellipse cx="1060.84" cy="1352.6" rx="6.8" ry="5.5"/><ellipse cx="1091.52" cy="1223.6" rx="6.8" ry="5.5"/><ellipse cx="1091.52" cy="1245.1" rx="6.8" ry="5.5"/><ellipse cx="1091.52" cy="1331.1" rx="6.8" ry="5.5"/><ellipse cx="1091.52" cy="1352.6" rx="6.8" ry="5.5"/><ellipse cx="1122.2" cy="1266.6" rx="6.8" ry="5.5"/><ellipse cx="1122.2" cy="1288.1" rx="6.8" ry="5.5"/><ellipse cx="1122.2" cy="1309.6" rx="6.8" ry="5.5"/><ellipse cx="1122.2" cy="1352.6" rx="6.8" ry="5.5"/><ellipse cx="1152.87" cy="1223.6" rx="6.8" ry="5.5"/><ellipse cx="1152.87" cy="1309.6" rx="6.8" ry="5.5"/><ellipse cx="1152.87" cy="1352.6" rx="6.8" ry="5.5"/><ellipse cx="1183.55" cy="1223.6" rx="6.8" ry="5.5"/><ellipse cx="1183.55" cy="1245.1" rx="6.8" ry="5.5"/><ellipse cx="1183.55" cy="1288.1" rx="6.8" ry="5.5"/><ellipse cx="1183.55" cy="1352.6" rx="6.8" ry="5.5"/><ellipse cx="1214.23" cy="1223.6" rx="6.8" ry="5.5"/><ellipse cx="1214.23" cy="1245.1" rx="6.8" ry="5.5"/><ellipse cx="1214.23" cy="1266.6" rx="6.8" ry="5.5"/><ellipse cx="1214.23" cy="1352.6" rx="6.8" ry="5.5"/><ellipse cx="1244.91" cy="1223.6" rx="6.8" ry="5.5"/><ellipse cx="1244.91" cy="1245.1" rx="6.8" ry="5.5"/><ellipse cx="1244.91" cy="1352.6" rx="6.8" ry="5.5"/><ellipse cx="1275.59" cy="1245.1" rx="6.8" ry="5.5"/><ellipse cx="1275.59" cy="1352.6" rx="6.8" ry="5.5"/><ellipse cx="1306.26" cy="1223.6" rx="6.8" ry="5.5"/><ellipse cx="1306.26" cy="1352.6" rx="6.8" ry="5.5"/><ellipse cx="1336.94" cy="1223.6" rx="6.8" ry="5.5"/><ellipse cx="1336.94" cy="1266.6" rx="6.8" ry="5.5"/><ellipse cx="1336.94" cy="1288.1" rx="6.8" ry="5.5"/><ellipse cx="1336.94" cy="1309.6" rx="6.8" ry="5.5"/><ellipse cx="1336.94" cy="1331.1" rx="6.8" ry="5.5"/><ellipse cx="1367.62" cy="1288.1" rx="6.8" ry="5.5"/><ellipse cx="1367.62" cy="1309.6" rx="6.8" ry="5.5"/><ellipse cx="1367.62" cy="1331.1" rx="6.8" ry="5.5"/><ellipse cx="1398.3" cy="1223.6" rx="6.8" ry="5.5"/><ellipse cx="1398.3" cy="1245.1" rx="6.8" ry="5.5"/><ellipse cx="1398.3" cy="1309.6" rx="6.8" ry="5.5"/><ellipse cx="1398.3" cy="1331.1" rx="6.8" ry="5.5"/><ellipse cx="1428.98" cy="1223.6" rx="6.8" ry="5.5"/><ellipse cx="1428.98" cy="1266.6" rx="6.8" ry="5.5"/><ellipse cx="1428.98" cy="1331.1" rx="6.8" ry="5.5"/><ellipse cx="1459.65" cy="1223.6" rx="6.8" ry="5.5"/><ellipse cx="1459.65" cy="1245.1" rx="6.8" ry="5.5"/><ellipse cx="1459.65" cy="1288.1" rx="6.8" ry="5.5"/><ellipse cx="1459.65" cy="1309.6" rx="6.8" ry="5.5"/><ellipse cx="1490.33" cy="1223.6" rx="6.8" ry="5.5"/><ellipse cx="1490.33" cy="1288.1" rx="6.8" ry="5.5"/><ellipse cx="1490.33" cy="1309.6" rx="6.8" ry="5.5"/><ellipse cx="1521.01" cy="1266.6" rx="6.8" ry="5.5"/><ellipse cx="1521.01" cy="1309.6" rx="6.8" ry="5.5"/><ellipse cx="1551.69" cy="1245.1" rx="6.8" ry="5.5"/><ellipse cx="1551.69" cy="1288.1" rx="6.8" ry="5.5"/><ellipse cx="1582.37" cy="1223.6" rx="6.8" ry="5.5"/><ellipse cx="1582.37" cy="1245.1" rx="6.8" ry="5.5"/><ellipse cx="1613.04" cy="1245.1" rx="6.8" ry="5.5"/></g>
<g fill="#3b3b3b"><rect x="138.8" y="1245.1" width="3.4" height="43"/><ellipse cx="140.5" cy="1245.1" rx="6.9" ry="5.6"/><ellipse cx="140.5" cy="1266.6" rx="6.9" ry="5.6"/><ellipse cx="140.5" cy="1288.1" rx="6.9" ry="5.6"/><rect x="169.48" y="1245.1" width="3.4" height="64.5"/><ellipse cx="171.18" cy="1245.1" rx="6.9" ry="5.6"/><ellipse cx="171.18" cy="1309.6" rx="6.9" ry="5.6"/><rect x="200.16" y="1288.1" width="3.4" height="21.5"/><ellipse cx="201.86" cy="1288.1" rx="6.9" ry="5.6"/><ellipse cx="201.86" cy="1309.6" rx="6.9" ry="5.6"/><rect x="230.83" y="1223.6" width="3.4" height="107.5"/><ellipse cx="232.53" cy="1223.6" rx="6.9" ry="5.6"/><ellipse cx="232.53" cy="1245.1" rx="6.9" ry="5.6"/><ellipse cx="232.53" cy="1266.6" rx="6.9" ry="5.6"/><ellipse cx="232.53" cy="1331.1" rx="6.9" ry="5.6"/><rect x="261.51" y="1288.1" width="3.4" height="64.5"/><ellipse cx="263.21" cy="1288.1" rx="6.9" ry="5.6"/><ellipse cx="263.21" cy="1309.6" rx="6.9" ry="5.6"/><ellipse cx="263.21" cy="1331.1" rx="6.9" ry="5.6"/><ellipse cx="263.21" cy="1352.6" rx="6.9" ry="5.6"/><rect x="292.19" y="1223.6" width="3.4" height="43"/><ellipse cx="293.89" cy="1223.6" rx="6.9" ry="5.6"/><ellipse cx="293.89" cy="1245.1" rx="6.9" ry="5.6"/><ellipse cx="293.89" cy="1266.6" rx="6.9" ry="5.6"/><rect x="322.87" y="1245.1" width="3.4" height="86"/><ellipse cx="324.57" cy="1245.1" rx="6.9" ry="5.6"/><ellipse cx="324.57" cy="1266.6" rx="6.9" ry="5.6"/><ellipse cx="324.57" cy="1309.6" rx="6.9" ry="5.6"/><ellipse cx="324.57" cy="1331.1" rx="6.9" ry="5.6"/><rect x="353.55" y="1223.6" width="3.4" height="129"/><ellipse cx="355.25" cy="1223.6" rx="6.9" ry="5.6"/><ellipse cx="355.25" cy="1245.1" rx="6.9" ry="5.6"/><ellipse cx="355.25" cy="1266.6" rx="6.9" ry="5.6"/><ellipse cx="355.25" cy="1331.1" rx="6.9" ry="5.6"/><ellipse cx="355.25" cy="1352.6" rx="6.9" ry="5.6"/><rect x="384.22" y="1223.6" width="3.4" height="86"/><ellipse cx="385.92" cy="1223.6" rx="6.9" ry="5.6"/><ellipse cx="385.92" cy="1245.1" rx="6.9" ry="5.6"/><ellipse cx="385.92" cy="1266.6" rx="6.9" ry="5.6"/><ellipse cx="385.92" cy="1288.1" rx="6.9" ry="5.6"/><ellipse cx="385.92" cy="1309.6" rx="6.9" ry="5.6"/><rect x="414.9" y="1223.6" width="3.4" height="107.5"/><ellipse cx="416.6" cy="1223.6" rx="6.9" ry="5.6"/><ellipse cx="416.6" cy="1288.1" rx="6.9" ry="5.6"/><ellipse cx="416.6" cy="1309.6" rx="6.9" ry="5.6"/><ellipse cx="416.6" cy="1331.1" rx="6.9" ry="5.6"/><rect x="445.58" y="1223.6" width="3.4" height="86"/><ellipse cx="447.28" cy="1223.6" rx="6.9" ry="5.6"/><ellipse cx="447.28" cy="1245.1" rx="6.9" ry="5.6"/><ellipse cx="447.28" cy="1266.6" rx="6.9" ry="5.6"/><ellipse cx="447.28" cy="1309.6" rx="6.9" ry="5.6"/><rect x="476.26" y="1223.6" width="3.4" height="129"/><ellipse cx="477.96" cy="1223.6" rx="6.9" ry="5.6"/><ellipse cx="477.96" cy="1245.1" rx="6.9" ry="5.6"/><ellipse cx="477.96" cy="1266.6" rx="6.9" ry="5.6"/><ellipse cx="477.96" cy="1288.1" rx="6.9" ry="5.6"/><ellipse cx="477.96" cy="1309.6" rx="6.9" ry="5.6"/><ellipse cx="477.96" cy="1352.6" rx="6.9" ry="5.6"/><rect x="506.94" y="1245.1" width="3.4" height="86"/><ellipse cx="508.64" cy="1245.1" rx="6.9" ry="5.6"/><ellipse cx="508.64" cy="1266.6" rx="6.9" ry="5.6"/><ellipse cx="508.64" cy="1331.1" rx="6.9" ry="5.6"/><rect x="537.61" y="1309.6" width="3.4" height="21.5"/><ellipse cx="539.31" cy="1309.6" rx="6.9" ry="5.6"/><ellipse cx="539.31" cy="1331.1" rx="6.9" ry="5.6"/><rect x="568.29" y="1223.6" width="3.4" height="129"/><ellipse cx="569.99" cy="1223.6" rx="6.9" ry="5.6"/><ellipse cx="569.99" cy="1266.6" rx="6.9" ry="5.6"/><ellipse cx="569.99" cy="1288.1" rx="6.9" ry="5.6"/><ellipse cx="569.99" cy="1331.1" rx="6.9" ry="5.6"/><ellipse cx="569.99" cy="1352.6" rx="6.9" ry="5.6"/><rect x="598.97" y="1245.1" width="3.4" height="107.5"/><ellipse cx="600.67" cy="1245.1" rx="6.9" ry="5.6"/><ellipse cx="600.67" cy="1266.6" rx="6.9" ry="5.6"/><ellipse cx="600.67" cy="1288.1" rx="6.9" ry="5.6"/><ellipse cx="600.67" cy="1331.1" rx="6.9" ry="5.6"/><ellipse cx="600.67" cy="1352.6" rx="6.9" ry="5.6"/><rect x="629.65" y="1223.6" width="3.4" height="86"/><ellipse cx="631.35" cy="1223.6" rx="6.9" ry="5.6"/><ellipse cx="631.35" cy="1309.6" rx="6.9" ry="5.6"/><rect x="660.33" y="1223.6" width="3.4" height="107.5"/><ellipse cx="662.03" cy="1223.6" rx="6.9" ry="5.6"/><ellipse cx="662.03" cy="1245.1" rx="6.9" ry="5.6"/><ellipse cx="662.03" cy="1266.6" rx="6.9" ry="5.6"/><ellipse cx="662.03" cy="1288.1" rx="6.9" ry="5.6"/><ellipse cx="662.03" cy="1331.1" rx="6.9" ry="5.6"/><rect x="691" y="1223.6" width="3.4" height="129"/><ellipse cx="692.7" cy="1223.6" rx="6.9" ry="5.6"/><ellipse cx="692.7" cy="1245.1" rx="6.9" ry="5.6"/><ellipse cx="692.7" cy="1266.6" rx="6.9" ry="5.6"/><ellipse cx="692.7" cy="1288.1" rx="6.9" ry="5.6"/><ellipse cx="692.7" cy="1352.6" rx="6.9" ry="5.6"/><rect x="721.68" y="1223.6" width="3.4" height="129"/><ellipse cx="723.38" cy="1223.6" rx="6.9" ry="5.6"/><ellipse cx="723.38" cy="1245.1" rx="6.9" ry="5.6"/><ellipse cx="723.38" cy="1266.6" rx="6.9" ry="5.6"/><ellipse cx="723.38" cy="1309.6" rx="6.9" ry="5.6"/><ellipse cx="723.38" cy="1352.6" rx="6.9" ry="5.6"/><rect x="752.36" y="1223.6" width="3.4" height="129"/><ellipse cx="754.06" cy="1223.6" rx="6.9" ry="5.6"/><ellipse cx="754.06" cy="1309.6" rx="6.9" ry="5.6"/><ellipse cx="754.06" cy="1331.1" rx="6.9" ry="5.6"/><ellipse cx="754.06" cy="1352.6" rx="6.9" ry="5.6"/><rect x="783.04" y="1223.6" width="3.4" height="64.5"/><ellipse cx="784.74" cy="1223.6" rx="6.9" ry="5.6"/><ellipse cx="784.74" cy="1245.1" rx="6.9" ry="5.6"/><ellipse cx="784.74" cy="1266.6" rx="6.9" ry="5.6"/><ellipse cx="784.74" cy="1288.1" rx="6.9" ry="5.6"/><rect x="813.72" y="1245.1" width="3.4" height="107.5"/><ellipse cx="815.42" cy="1245.1" rx="6.9" ry="5.6"/><ellipse cx="815.42" cy="1288.1" rx="6.9" ry="5.6"/><ellipse cx="815.42" cy="1352.6" rx="6.9" ry="5.6"/><rect x="844.39" y="1223.6" width="3.4" height="129"/><ellipse cx="846.09" cy="1223.6" rx="6.9" ry="5.6"/><ellipse cx="846.09" cy="1288.1" rx="6.9" ry="5.6"/><ellipse cx="846.09" cy="1309.6" rx="6.9" ry="5.6"/><ellipse cx="846.09" cy="1352.6" rx="6.9" ry="5.6"/><rect x="875.07" y="1223.6" width="3.4" height="129"/><ellipse cx="876.77" cy="1223.6" rx="6.9" ry="5.6"/><ellipse cx="876.77" cy="1266.6" rx="6.9" ry="5.6"/><ellipse cx="876.77" cy="1288.1" rx="6.9" ry="5.6"/><ellipse cx="876.77" cy="1309.6" rx="6.9" ry="5.6"/><ellipse cx="876.77" cy="1352.6" rx="6.9" ry="5.6"/><rect x="905.75" y="1309.6" width="3.4" height="43"/><ellipse cx="907.45" cy="1309.6" rx="6.9" ry="5.6"/><ellipse cx="907.45" cy="1331.1" rx="6.9" ry="5.6"/><ellipse cx="907.45" cy="1352.6" rx="6.9" ry="5.6"/><rect x="936.43" y="1245.1" width="3.4" height="107.5"/><ellipse cx="938.13" cy="1245.1" rx="6.9" ry="5.6"/><ellipse cx="938.13" cy="1266.6" rx="6.9" ry="5.6"/><ellipse cx="938.13" cy="1309.6" rx="6.9" ry="5.6"/><ellipse cx="938.13" cy="1331.1" rx="6.9" ry="5.6"/><ellipse cx="938.13" cy="1352.6" rx="6.9" ry="5.6"/><rect x="967.11" y="1223.6" width="3.4" height="129"/><ellipse cx="968.81" cy="1223.6" rx="6.9" ry="5.6"/><ellipse cx="968.81" cy="1245.1" rx="6.9" ry="5.6"/><ellipse cx="968.81" cy="1288.1" rx="6.9" ry="5.6"/><ellipse cx="968.81" cy="1309.6" rx="6.9" ry="5.6"/><ellipse cx="968.81" cy="1331.1" rx="6.9" ry="5.6"/><ellipse cx="968.81" cy="1352.6" rx="6.9" ry="5.6"/><rect x="997.78" y="1223.6" width="3.4" height="21.5"/><ellipse cx="999.48" cy="1223.6" rx="6.9" ry="5.6"/><ellipse cx="999.48" cy="1245.1" rx="6.9" ry="5.6"/><rect x="1028.46" y="1223.6" width="3.4" height="43"/><ellipse cx="1030.16" cy="1223.6" rx="6.9" ry="5.6"/><ellipse cx="1030.16" cy="1266.6" rx="6.9" ry="5.6"/><rect x="1059.14" y="1223.6" width="3.4" height="86"/><ellipse cx="1060.84" cy="1223.6" rx="6.9" ry="5.6"/><ellipse cx="1060.84" cy="1288.1" rx="6.9" ry="5.6"/><ellipse cx="1060.84" cy="1309.6" rx="6.9" ry="5.6"/><rect x="1089.82" y="1266.6" width="3.4" height="43"/><ellipse cx="1091.52" cy="1266.6" rx="6.9" ry="5.6"/><ellipse cx="1091.52" cy="1288.1" rx="6.9" ry="5.6"/><ellipse cx="1091.52" cy="1309.6" rx="6.9" ry="5.6"/><rect x="1120.5" y="1223.6" width="3.4" height="107.5"/><ellipse cx="1122.2" cy="1223.6" rx="6.9" ry="5.6"/><ellipse cx="1122.2" cy="1245.1" rx="6.9" ry="5.6"/><ellipse cx="1122.2" cy="1331.1" rx="6.9" ry="5.6"/><rect x="1151.17" y="1245.1" width="3.4" height="86"/><ellipse cx="1152.87" cy="1245.1" rx="6.9" ry="5.6"/><ellipse cx="1152.87" cy="1266.6" rx="6.9" ry="5.6"/><ellipse cx="1152.87" cy="1288.1" rx="6.9" ry="5.6"/><ellipse cx="1152.87" cy="1331.1" rx="6.9" ry="5.6"/><rect x="1181.85" y="1266.6" width="3.4" height="64.5"/><ellipse cx="1183.55" cy="1266.6" rx="6.9" ry="5.6"/><ellipse cx="1183.55" cy="1309.6" rx="6.9" ry="5.6"/><ellipse cx="1183.55" cy="1331.1" rx="6.9" ry="5.6"/><rect x="1212.53" y="1288.1" width="3.4" height="43"/><ellipse cx="1214.23" cy="1288.1" rx="6.9" ry="5.6"/><ellipse cx="1214.23" cy="1309.6" rx="6.9" ry="5.6"/><ellipse cx="1214.23" cy="1331.1" rx="6.9" ry="5.6"/><rect x="1243.21" y="1266.6" width="3.4" height="64.5"/><ellipse cx="1244.91" cy="1266.6" rx="6.9" ry="5.6"/><ellipse cx="1244.91" cy="1288.1" rx="6.9" ry="5.6"/><ellipse cx="1244.91" cy="1309.6" rx="6.9" ry="5.6"/><ellipse cx="1244.91" cy="1331.1" rx="6.9" ry="5.6"/><rect x="1273.89" y="1223.6" width="3.4" height="107.5"/><ellipse cx="1275.59" cy="1223.6" rx="6.9" ry="5.6"/><ellipse cx="1275.59" cy="1266.6" rx="6.9" ry="5.6"/><ellipse cx="1275.59" cy="1288.1" rx="6.9" ry="5.6"/><ellipse cx="1275.59" cy="1309.6" rx="6.9" ry="5.6"/><ellipse cx="1275.59" cy="1331.1" rx="6.9" ry="5.6"/><rect x="1304.56" y="1245.1" width="3.4" height="86"/><ellipse cx="1306.26" cy="1245.1" rx="6.9" ry="5.6"/><ellipse cx="1306.26" cy="1266.6" rx="6.9" ry="5.6"/><ellipse cx="1306.26" cy="1288.1" rx="6.9" ry="5.6"/><ellipse cx="1306.26" cy="1309.6" rx="6.9" ry="5.6"/><ellipse cx="1306.26" cy="1331.1" rx="6.9" ry="5.6"/><rect x="1335.24" y="1245.1" width="3.4" height="107.5"/><ellipse cx="1336.94" cy="1245.1" rx="6.9" ry="5.6"/><ellipse cx="1336.94" cy="1352.6" rx="6.9" ry="5.6"/><rect x="1365.92" y="1223.6" width="3.4" height="129"/><ellipse cx="1367.62" cy="1223.6" rx="6.9" ry="5.6"/><ellipse cx="1367.62" cy="1245.1" rx="6.9" ry="5.6"/><ellipse cx="1367.62" cy="1266.6" rx="6.9" ry="5.6"/><ellipse cx="1367.62" cy="1352.6" rx="6.9" ry="5.6"/><rect x="1396.6" y="1266.6" width="3.4" height="86"/><ellipse cx="1398.3" cy="1266.6" rx="6.9" ry="5.6"/><ellipse cx="1398.3" cy="1288.1" rx="6.9" ry="5.6"/><ellipse cx="1398.3" cy="1352.6" rx="6.9" ry="5.6"/><rect x="1427.28" y="1245.1" width="3.4" height="107.5"/><ellipse cx="1428.98" cy="1245.1" rx="6.9" ry="5.6"/><ellipse cx="1428.98" cy="1288.1" rx="6.9" ry="5.6"/><ellipse cx="1428.98" cy="1309.6" rx="6.9" ry="5.6"/><ellipse cx="1428.98" cy="1352.6" rx="6.9" ry="5.6"/><rect x="1457.95" y="1266.6" width="3.4" height="86"/><ellipse cx="1459.65" cy="1266.6" rx="6.9" ry="5.6"/><ellipse cx="1459.65" cy="1331.1" rx="6.9" ry="5.6"/><ellipse cx="1459.65" cy="1352.6" rx="6.9" ry="5.6"/><rect x="1488.63" y="1245.1" width="3.4" height="107.5"/><ellipse cx="1490.33" cy="1245.1" rx="6.9" ry="5.6"/><ellipse cx="1490.33" cy="1266.6" rx="6.9" ry="5.6"/><ellipse cx="1490.33" cy="1331.1" rx="6.9" ry="5.6"/><ellipse cx="1490.33" cy="1352.6" rx="6.9" ry="5.6"/><rect x="1519.31" y="1223.6" width="3.4" height="129"/><ellipse cx="1521.01" cy="1223.6" rx="6.9" ry="5.6"/><ellipse cx="1521.01" cy="1245.1" rx="6.9" ry="5.6"/><ellipse cx="1521.01" cy="1288.1" rx="6.9" ry="5.6"/><ellipse cx="1521.01" cy="1331.1" rx="6.9" ry="5.6"/><ellipse cx="1521.01" cy="1352.6" rx="6.9" ry="5.6"/><rect x="1549.99" y="1223.6" width="3.4" height="129"/><ellipse cx="1551.69" cy="1223.6" rx="6.9" ry="5.6"/><ellipse cx="1551.69" cy="1266.6" rx="6.9" ry="5.6"/><ellipse cx="1551.69" cy="1309.6" rx="6.9" ry="5.6"/><ellipse cx="1551.69" cy="1331.1" rx="6.9" ry="5.6"/><ellipse cx="1551.69" cy="1352.6" rx="6.9" ry="5.6"/><rect x="1580.67" y="1266.6" width="3.4" height="86"/><ellipse cx="1582.37" cy="1266.6" rx="6.9" ry="5.6"/><ellipse cx="1582.37" cy="1288.1" rx="6.9" ry="5.6"/><ellipse cx="1582.37" cy="1309.6" rx="6.9" ry="5.6"/><ellipse cx="1582.37" cy="1331.1" rx="6.9" ry="5.6"/><ellipse cx="1582.37" cy="1352.6" rx="6.9" ry="5.6"/><rect x="1611.34" y="1223.6" width="3.4" height="129"/><ellipse cx="1613.04" cy="1223.6" rx="6.9" ry="5.6"/><ellipse cx="1613.04" cy="1266.6" rx="6.9" ry="5.6"/><ellipse cx="1613.04" cy="1288.1" rx="6.9" ry="5.6"/><ellipse cx="1613.04" cy="1309.6" rx="6.9" ry="5.6"/><ellipse cx="1613.04" cy="1331.1" rx="6.9" ry="5.6"/><ellipse cx="1613.04" cy="1352.6" rx="6.9" ry="5.6"/></g>
<text transform="matrix(1.2 0 0 1 132.65 1200.83)" font-size="11.4" fill="#2b2b2b">10</text>
<text transform="matrix(1.2 0 0 1 163.33 1200.83)" font-size="11.4" fill="#2b2b2b">10</text>
<text transform="matrix(1.2 0 0 1 198.04 1201.05)" font-size="11.4" fill="#2b2b2b">9</text>
<text transform="matrix(1.2 0 0 1 228.74 1201.28)" font-size="11.4" fill="#2b2b2b">8</text>
<text transform="matrix(1.2 0 0 1 259.42 1201.28)" font-size="11.4" fill="#2b2b2b">8</text>
<text transform="matrix(1.2 0 0 1 290.08 1201.51)" font-size="11.4" fill="#2b2b2b">7</text>
<text transform="matrix(1.2 0 0 1 320.75 1201.51)" font-size="11.4" fill="#2b2b2b">7</text>
<text transform="matrix(1.2 0 0 1 351.43 1201.51)" font-size="11.4" fill="#2b2b2b">7</text>
<text transform="matrix(1.2 0 0 1 382.08 1201.74)" font-size="11.4" fill="#2b2b2b">6</text>
<text transform="matrix(1.2 0 0 1 412.75 1201.74)" font-size="11.4" fill="#2b2b2b">6</text>
<text transform="matrix(1.2 0 0 1 443.48 1201.96)" font-size="11.4" fill="#2b2b2b">5</text>
<text transform="matrix(1.2 0 0 1 474.16 1201.96)" font-size="11.4" fill="#2b2b2b">5</text>
<text transform="matrix(1.2 0 0 1 504.87 1202.19)" font-size="11.4" fill="#2b2b2b">4</text>
<text transform="matrix(1.2 0 0 1 535.55 1202.19)" font-size="11.4" fill="#2b2b2b">4</text>
<text transform="matrix(1.2 0 0 1 566.23 1202.19)" font-size="11.4" fill="#2b2b2b">4</text>
<text transform="matrix(1.2 0 0 1 596.91 1202.19)" font-size="11.4" fill="#2b2b2b">4</text>
<text transform="matrix(1.2 0 0 1 627.59 1202.42)" font-size="11.4" fill="#2b2b2b">3</text>
<text transform="matrix(1.2 0 0 1 658.26 1202.42)" font-size="11.4" fill="#2b2b2b">3</text>
<text transform="matrix(1.2 0 0 1 688.94 1202.42)" font-size="11.4" fill="#2b2b2b">3</text>
<text transform="matrix(1.2 0 0 1 719.62 1202.42)" font-size="11.4" fill="#2b2b2b">3</text>
<text transform="matrix(1.2 0 0 1 750.3 1202.42)" font-size="11.4" fill="#2b2b2b">3</text>
<text transform="matrix(1.2 0 0 1 780.94 1202.65)" font-size="11.4" fill="#2b2b2b">2</text>
<text transform="matrix(1.2 0 0 1 811.62 1202.65)" font-size="11.4" fill="#2b2b2b">2</text>
<text transform="matrix(1.2 0 0 1 842.3 1202.65)" font-size="11.4" fill="#2b2b2b">2</text>
<text transform="matrix(1.2 0 0 1 872.98 1202.65)" font-size="11.4" fill="#2b2b2b">2</text>
<text transform="matrix(1.2 0 0 1 903.65 1202.65)" font-size="11.4" fill="#2b2b2b">2</text>
<text transform="matrix(1.2 0 0 1 934.33 1202.65)" font-size="11.4" fill="#2b2b2b">2</text>
<text transform="matrix(1.2 0 0 1 965.01 1202.65)" font-size="11.4" fill="#2b2b2b">2</text>
<text transform="matrix(1.2 0 0 1 995.5 1202.87)" font-size="11.4" fill="#2b2b2b">1</text>
<text transform="matrix(1.2 0 0 1 1026.18 1202.87)" font-size="11.4" fill="#2b2b2b">1</text>
<text transform="matrix(1.2 0 0 1 1056.86 1202.87)" font-size="11.4" fill="#2b2b2b">1</text>
<text transform="matrix(1.2 0 0 1 1087.53 1202.87)" font-size="11.4" fill="#2b2b2b">1</text>
<text transform="matrix(1.2 0 0 1 1118.21 1202.87)" font-size="11.4" fill="#2b2b2b">1</text>
<text transform="matrix(1.2 0 0 1 1148.89 1202.87)" font-size="11.4" fill="#2b2b2b">1</text>
<text transform="matrix(1.2 0 0 1 1179.57 1202.87)" font-size="11.4" fill="#2b2b2b">1</text>
<text transform="matrix(1.2 0 0 1 1210.25 1202.87)" font-size="11.4" fill="#2b2b2b">1</text>
<text transform="matrix(1.2 0 0 1 1240.92 1202.87)" font-size="11.4" fill="#2b2b2b">1</text>
<text transform="matrix(1.2 0 0 1 1271.6 1202.87)" font-size="11.4" fill="#2b2b2b">1</text>
<text transform="matrix(1.2 0 0 1 1302.28 1202.87)" font-size="11.4" fill="#2b2b2b">1</text>
<text transform="matrix(1.2 0 0 1 1332.96 1202.87)" font-size="11.4" fill="#2b2b2b">1</text>
<text transform="matrix(1.2 0 0 1 1363.64 1202.87)" font-size="11.4" fill="#2b2b2b">1</text>
<text transform="matrix(1.2 0 0 1 1394.31 1202.87)" font-size="11.4" fill="#2b2b2b">1</text>
<text transform="matrix(1.2 0 0 1 1424.99 1202.87)" font-size="11.4" fill="#2b2b2b">1</text>
<text transform="matrix(1.2 0 0 1 1455.67 1202.87)" font-size="11.4" fill="#2b2b2b">1</text>
<text transform="matrix(1.2 0 0 1 1486.35 1202.87)" font-size="11.4" fill="#2b2b2b">1</text>
<text transform="matrix(1.2 0 0 1 1517.03 1202.87)" font-size="11.4" fill="#2b2b2b">1</text>
<text transform="matrix(1.2 0 0 1 1547.7 1202.87)" font-size="11.4" fill="#2b2b2b">1</text>
<text transform="matrix(1.2 0 0 1 1578.38 1202.87)" font-size="11.4" fill="#2b2b2b">1</text>
<text transform="matrix(1.2 0 0 1 1609.06 1202.87)" font-size="11.4" fill="#2b2b2b">1</text>
<text transform="matrix(1.25 0 0 1 102.2 1214.16)" font-size="13.6" fill="#4d4d4d">0</text>
<text transform="matrix(1.25 0 0 1 83.29 1100.46)" font-size="13.6" fill="#4d4d4d">500</text>
<text transform="matrix(1.25 0 0 1 73.85 986.76)" font-size="13.6" fill="#4d4d4d">1000</text>
<text transform="matrix(1.25 0 0 1 73.85 873.06)" font-size="13.6" fill="#4d4d4d">1500</text>
<text transform="matrix(1.36 0 0 1 59.91 1228.3)" font-size="12.8" fill="#111">Y_pes</text>
<text transform="matrix(1.35 0 0 1 58.88 1250)" font-size="12.8" fill="#111">M_bov</text>
<text transform="matrix(1.36 0 0 1 60.06 1271.7)" font-size="12.8" fill="#111">M_tub</text>
<text transform="matrix(1.36 0 0 1 61.51 1293.4)" font-size="12.8" fill="#111">Y_ent</text>
<text transform="matrix(1.34 0 0 1 52.98 1315.1)" font-size="12.8" fill="#111">M_para</text>
<text transform="matrix(1.34 0 0 1 53.31 1336.8)" font-size="12.8" fill="#111">Y_pseu</text>
<text transform="matrix(1.36 0 0 1 56.11 1358.5)" font-size="12.8" fill="#111">Y_fred</text>
<text transform="matrix(0 -0.73 1 0 39.53 1045.05)" font-size="20.59" fill="#111" stroke="#111" stroke-width=".35">No. of proteins</text>
<rect x="119.2" y="1942" width="1512.1" height="25.06" fill="#A1AD8F"/>
<rect x="119.2" y="1966.36" width="1512.1" height="25.22" fill="#81BEBE"/>
<rect x="119.2" y="1990.88" width="1512.1" height="25.22" fill="#E5DCAD"/>
<rect x="119.2" y="2015.4" width="1512.1" height="25.22" fill="#BFBDB3"/>
<rect x="119.2" y="2039.92" width="1512.1" height="25.22" fill="#D4858A"/>
<rect x="119.2" y="2064.44" width="1512.1" height="25.22" fill="#BFB17B"/>
<rect x="119.2" y="2088.96" width="1512.1" height="24.24" fill="#8785AF"/>
<rect x="118.3" y="1418" width="1" height="522" fill="#8a8a8a"/>
<rect x="118.3" y="1940" width="1" height="173.5" fill="#8a8a8a" fill-opacity=".3"/>
<rect x="110.8" y="1939.2" width="8" height="1.8" fill="#222"/>
<rect x="110.8" y="1807.95" width="8" height="2.1" fill="#222"/>
<rect x="110.8" y="1676.95" width="8" height="2.1" fill="#222"/>
<rect x="110.8" y="1545.95" width="8" height="2.1" fill="#222"/>
<rect x="118.3" y="1939" width="1513" height="2" fill="#000"/>
<g fill="url(#ld)"><ellipse cx="138" cy="1954.1" rx="8.1" ry="6.4"/><ellipse cx="138" cy="1978.62" rx="8.1" ry="6.4"/><ellipse cx="138" cy="2027.66" rx="8.1" ry="6.4"/><ellipse cx="138" cy="2052.18" rx="8.1" ry="6.4"/><ellipse cx="138" cy="2076.7" rx="8.1" ry="6.4"/><ellipse cx="173.56" cy="1954.1" rx="8.1" ry="6.4"/><ellipse cx="173.56" cy="1978.62" rx="8.1" ry="6.4"/><ellipse cx="173.56" cy="2027.66" rx="8.1" ry="6.4"/><ellipse cx="173.56" cy="2052.18" rx="8.1" ry="6.4"/><ellipse cx="173.56" cy="2101.22" rx="8.1" ry="6.4"/><ellipse cx="209.13" cy="1954.1" rx="8.1" ry="6.4"/><ellipse cx="209.13" cy="1978.62" rx="8.1" ry="6.4"/><ellipse cx="209.13" cy="2027.66" rx="8.1" ry="6.4"/><ellipse cx="209.13" cy="2076.7" rx="8.1" ry="6.4"/><ellipse cx="244.69" cy="1954.1" rx="8.1" ry="6.4"/><ellipse cx="244.69" cy="1978.62" rx="8.1" ry="6.4"/><ellipse cx="244.69" cy="2027.66" rx="8.1" ry="6.4"/><ellipse cx="280.26" cy="1954.1" rx="8.1" ry="6.4"/><ellipse cx="280.26" cy="1978.62" rx="8.1" ry="6.4"/><ellipse cx="280.26" cy="2052.18" rx="8.1" ry="6.4"/><ellipse cx="280.26" cy="2076.7" rx="8.1" ry="6.4"/><ellipse cx="280.26" cy="2101.22" rx="8.1" ry="6.4"/><ellipse cx="315.82" cy="1954.1" rx="8.1" ry="6.4"/><ellipse cx="315.82" cy="1978.62" rx="8.1" ry="6.4"/><ellipse cx="315.82" cy="2052.18" rx="8.1" ry="6.4"/><ellipse cx="315.82" cy="2101.22" rx="8.1" ry="6.4"/><ellipse cx="351.39" cy="1954.1" rx="8.1" ry="6.4"/><ellipse cx="351.39" cy="1978.62" rx="8.1" ry="6.4"/><ellipse cx="351.39" cy="2052.18" rx="8.1" ry="6.4"/><ellipse cx="386.95" cy="1954.1" rx="8.1" ry="6.4"/><ellipse cx="386.95" cy="1978.62" rx="8.1" ry="6.4"/><ellipse cx="386.95" cy="2076.7" rx="8.1" ry="6.4"/><ellipse cx="422.52" cy="1954.1" rx="8.1" ry="6.4"/><ellipse cx="422.52" cy="2003.14" rx="8.1" ry="6.4"/><ellipse cx="422.52" cy="2027.66" rx="8.1" ry="6.4"/><ellipse cx="422.52" cy="2052.18" rx="8.1" ry="6.4"/><ellipse cx="422.52" cy="2101.22" rx="8.1" ry="6.4"/><ellipse cx="458.08" cy="1954.1" rx="8.1" ry="6.4"/><ellipse cx="458.08" cy="2003.14" rx="8.1" ry="6.4"/><ellipse cx="458.08" cy="2027.66" rx="8.1" ry="6.4"/><ellipse cx="458.08" cy="2052.18" rx="8.1" ry="6.4"/><ellipse cx="493.65" cy="1954.1" rx="8.1" ry="6.4"/><ellipse cx="493.65" cy="2003.14" rx="8.1" ry="6.4"/><ellipse cx="493.65" cy="2027.66" rx="8.1" ry="6.4"/><ellipse cx="493.65" cy="2076.7" rx="8.1" ry="6.4"/><ellipse cx="529.21" cy="1954.1" rx="8.1" ry="6.4"/><ellipse cx="529.21" cy="2003.14" rx="8.1" ry="6.4"/><ellipse cx="529.21" cy="2027.66" rx="8.1" ry="6.4"/><ellipse cx="529.21" cy="2101.22" rx="8.1" ry="6.4"/><ellipse cx="564.78" cy="1954.1" rx="8.1" ry="6.4"/><ellipse cx="564.78" cy="2003.14" rx="8.1" ry="6.4"/><ellipse cx="564.78" cy="2027.66" rx="8.1" ry="6.4"/><ellipse cx="600.35" cy="1954.1" rx="8.1" ry="6.4"/><ellipse cx="600.35" cy="2003.14" rx="8.1" ry="6.4"/><ellipse cx="600.35" cy="2052.18" rx="8.1" ry="6.4"/><ellipse cx="600.35" cy="2076.7" rx="8.1" ry="6.4"/><ellipse cx="600.35" cy="2101.22" rx="8.1" ry="6.4"/><ellipse cx="635.91" cy="1954.1" rx="8.1" ry="6.4"/><ellipse cx="635.91" cy="2003.14" rx="8.1" ry="6.4"/><ellipse cx="635.91" cy="2052.18" rx="8.1" ry="6.4"/><ellipse cx="635.91" cy="2101.22" rx="8.1" ry="6.4"/><ellipse cx="671.47" cy="1954.1" rx="8.1" ry="6.4"/><ellipse cx="671.47" cy="2003.14" rx="8.1" ry="6.4"/><ellipse cx="671.47" cy="2052.18" rx="8.1" ry="6.4"/><ellipse cx="707.04" cy="1954.1" rx="8.1" ry="6.4"/><ellipse cx="707.04" cy="2003.14" rx="8.1" ry="6.4"/><ellipse cx="707.04" cy="2076.7" rx="8.1" ry="6.4"/><ellipse cx="707.04" cy="2101.22" rx="8.1" ry="6.4"/><ellipse cx="742.61" cy="1954.1" rx="8.1" ry="6.4"/><ellipse cx="742.61" cy="2003.14" rx="8.1" ry="6.4"/><ellipse cx="742.61" cy="2101.22" rx="8.1" ry="6.4"/><ellipse cx="778.17" cy="1954.1" rx="8.1" ry="6.4"/><ellipse cx="778.17" cy="2003.14" rx="8.1" ry="6.4"/><ellipse cx="813.73" cy="1978.62" rx="8.1" ry="6.4"/><ellipse cx="813.73" cy="2003.14" rx="8.1" ry="6.4"/><ellipse cx="813.73" cy="2027.66" rx="8.1" ry="6.4"/><ellipse cx="813.73" cy="2076.7" rx="8.1" ry="6.4"/><ellipse cx="849.3" cy="1978.62" rx="8.1" ry="6.4"/><ellipse cx="849.3" cy="2027.66" rx="8.1" ry="6.4"/><ellipse cx="849.3" cy="2052.18" rx="8.1" ry="6.4"/><ellipse cx="849.3" cy="2076.7" rx="8.1" ry="6.4"/><ellipse cx="884.87" cy="1978.62" rx="8.1" ry="6.4"/><ellipse cx="884.87" cy="2027.66" rx="8.1" ry="6.4"/><ellipse cx="884.87" cy="2052.18" rx="8.1" ry="6.4"/><ellipse cx="884.87" cy="2101.22" rx="8.1" ry="6.4"/><ellipse cx="920.43" cy="1978.62" rx="8.1" ry="6.4"/><ellipse cx="920.43" cy="2027.66" rx="8.1" ry="6.4"/><ellipse cx="920.43" cy="2052.18" rx="8.1" ry="6.4"/><ellipse cx="955.99" cy="1978.62" rx="8.1" ry="6.4"/><ellipse cx="955.99" cy="2027.66" rx="8.1" ry="6.4"/><ellipse cx="955.99" cy="2076.7" rx="8.1" ry="6.4"/><ellipse cx="955.99" cy="2101.22" rx="8.1" ry="6.4"/><ellipse cx="991.56" cy="1978.62" rx="8.1" ry="6.4"/><ellipse cx="991.56" cy="2027.66" rx="8.1" ry="6.4"/><ellipse cx="991.56" cy="2076.7" rx="8.1" ry="6.4"/><ellipse cx="1027.12" cy="1978.62" rx="8.1" ry="6.4"/><ellipse cx="1027.12" cy="2027.66" rx="8.1" ry="6.4"/><ellipse cx="1027.12" cy="2101.22" rx="8.1" ry="6.4"/><ellipse cx="1062.69" cy="1978.62" rx="8.1" ry="6.4"/><ellipse cx="1062.69" cy="2052.18" rx="8.1" ry="6.4"/><ellipse cx="1062.69" cy="2076.7" rx="8.1" ry="6.4"/><ellipse cx="1062.69" cy="2101.22" rx="8.1" ry="6.4"/><ellipse cx="1098.25" cy="1978.62" rx="8.1" ry="6.4"/><ellipse cx="1098.25" cy="2052.18" rx="8.1" ry="6.4"/><ellipse cx="1098.25" cy="2076.7" rx="8.1" ry="6.4"/><ellipse cx="1133.82" cy="1978.62" rx="8.1" ry="6.4"/><ellipse cx="1133.82" cy="2052.18" rx="8.1" ry="6.4"/><ellipse cx="1133.82" cy="2101.22" rx="8.1" ry="6.4"/><ellipse cx="1169.38" cy="1978.62" rx="8.1" ry="6.4"/><ellipse cx="1169.38" cy="2076.7" rx="8.1" ry="6.4"/><ellipse cx="1169.38" cy="2101.22" rx="8.1" ry="6.4"/><ellipse cx="1204.95" cy="2003.14" rx="8.1" ry="6.4"/><ellipse cx="1204.95" cy="2027.66" rx="8.1" ry="6.4"/><ellipse cx="1204.95" cy="2052.18" rx="8.1" ry="6.4"/><ellipse cx="1204.95" cy="2076.7" rx="8.1" ry="6.4"/><ellipse cx="1240.51" cy="2003.14" rx="8.1" ry="6.4"/><ellipse cx="1240.51" cy="2027.66" rx="8.1" ry="6.4"/><ellipse cx="1240.51" cy="2052.18" rx="8.1" ry="6.4"/><ellipse cx="1276.08" cy="2003.14" rx="8.1" ry="6.4"/><ellipse cx="1276.08" cy="2027.66" rx="8.1" ry="6.4"/><ellipse cx="1276.08" cy="2076.7" rx="8.1" ry="6.4"/><ellipse cx="1276.08" cy="2101.22" rx="8.1" ry="6.4"/><ellipse cx="1311.64" cy="2003.14" rx="8.1" ry="6.4"/><ellipse cx="1311.64" cy="2027.66" rx="8.1" ry="6.4"/><ellipse cx="1311.64" cy="2076.7" rx="8.1" ry="6.4"/><ellipse cx="1347.21" cy="2003.14" rx="8.1" ry="6.4"/><ellipse cx="1347.21" cy="2027.66" rx="8.1" ry="6.4"/><ellipse cx="1347.21" cy="2101.22" rx="8.1" ry="6.4"/><ellipse cx="1382.77" cy="2003.14" rx="8.1" ry="6.4"/><ellipse cx="1382.77" cy="2027.66" rx="8.1" ry="6.4"/><ellipse cx="1418.34" cy="2003.14" rx="8.1" ry="6.4"/><ellipse cx="1418.34" cy="2052.18" rx="8.1" ry="6.4"/><ellipse cx="1418.34" cy="2076.7" rx="8.1" ry="6.4"/><ellipse cx="1418.34" cy="2101.22" rx="8.1" ry="6.4"/><ellipse cx="1453.9" cy="2003.14" rx="8.1" ry="6.4"/><ellipse cx="1453.9" cy="2052.18" rx="8.1" ry="6.4"/><ellipse cx="1453.9" cy="2076.7" rx="8.1" ry="6.4"/><ellipse cx="1489.47" cy="2003.14" rx="8.1" ry="6.4"/><ellipse cx="1489.47" cy="2052.18" rx="8.1" ry="6.4"/><ellipse cx="1489.47" cy="2101.22" rx="8.1" ry="6.4"/><ellipse cx="1525.03" cy="2003.14" rx="8.1" ry="6.4"/><ellipse cx="1525.03" cy="2076.7" rx="8.1" ry="6.4"/><ellipse cx="1525.03" cy="2101.22" rx="8.1" ry="6.4"/><ellipse cx="1560.6" cy="2003.14" rx="8.1" ry="6.4"/><ellipse cx="1560.6" cy="2076.7" rx="8.1" ry="6.4"/><ellipse cx="1596.16" cy="2003.14" rx="8.1" ry="6.4"/><ellipse cx="1596.16" cy="2101.22" rx="8.1" ry="6.4"/></g>
<g fill="#3b3b3b"><rect x="135.95" y="2003.14" width="4.1" height="98.08"/><ellipse cx="138" cy="2003.14" rx="8.15" ry="6.4"/><ellipse cx="138" cy="2101.22" rx="8.15" ry="6.4"/><rect x="171.51" y="2003.14" width="4.1" height="73.56"/><ellipse cx="173.56" cy="2003.14" rx="8.15" ry="6.4"/><ellipse cx="173.56" cy="2076.7" rx="8.15" ry="6.4"/><rect x="207.08" y="2003.14" width="4.1" height="98.08"/><ellipse cx="209.13" cy="2003.14" rx="8.15" ry="6.4"/><ellipse cx="209.13" cy="2052.18" rx="8.15" ry="6.4"/><ellipse cx="209.13" cy="2101.22" rx="8.15" ry="6.4"/><rect x="242.64" y="2003.14" width="4.1" height="98.08"/><ellipse cx="244.69" cy="2003.14" rx="8.15" ry="6.4"/><ellipse cx="244.69" cy="2052.18" rx="8.15" ry="6.4"/><ellipse cx="244.69" cy="2076.7" rx="8.15" ry="6.4"/><ellipse cx="244.69" cy="2101.22" rx="8.15" ry="6.4"/><rect x="278.21" y="2003.14" width="4.1" height="24.52"/><ellipse cx="280.26" cy="2003.14" rx="8.15" ry="6.4"/><ellipse cx="280.26" cy="2027.66" rx="8.15" ry="6.4"/><rect x="313.77" y="2003.14" width="4.1" height="73.56"/><ellipse cx="315.82" cy="2003.14" rx="8.15" ry="6.4"/><ellipse cx="315.82" cy="2027.66" rx="8.15" ry="6.4"/><ellipse cx="315.82" cy="2076.7" rx="8.15" ry="6.4"/><rect x="349.34" y="2003.14" width="4.1" height="98.08"/><ellipse cx="351.39" cy="2003.14" rx="8.15" ry="6.4"/><ellipse cx="351.39" cy="2027.66" rx="8.15" ry="6.4"/><ellipse cx="351.39" cy="2076.7" rx="8.15" ry="6.4"/><ellipse cx="351.39" cy="2101.22" rx="8.15" ry="6.4"/><rect x="384.9" y="2003.14" width="4.1" height="98.08"/><ellipse cx="386.95" cy="2003.14" rx="8.15" ry="6.4"/><ellipse cx="386.95" cy="2027.66" rx="8.15" ry="6.4"/><ellipse cx="386.95" cy="2052.18" rx="8.15" ry="6.4"/><ellipse cx="386.95" cy="2101.22" rx="8.15" ry="6.4"/><rect x="420.47" y="1978.62" width="4.1" height="98.08"/><ellipse cx="422.52" cy="1978.62" rx="8.15" ry="6.4"/><ellipse cx="422.52" cy="2076.7" rx="8.15" ry="6.4"/><rect x="456.03" y="1978.62" width="4.1" height="122.6"/><ellipse cx="458.08" cy="1978.62" rx="8.15" ry="6.4"/><ellipse cx="458.08" cy="2076.7" rx="8.15" ry="6.4"/><ellipse cx="458.08" cy="2101.22" rx="8.15" ry="6.4"/><rect x="491.6" y="1978.62" width="4.1" height="122.6"/><ellipse cx="493.65" cy="1978.62" rx="8.15" ry="6.4"/><ellipse cx="493.65" cy="2052.18" rx="8.15" ry="6.4"/><ellipse cx="493.65" cy="2101.22" rx="8.15" ry="6.4"/><rect x="527.16" y="1978.62" width="4.1" height="98.08"/><ellipse cx="529.21" cy="1978.62" rx="8.15" ry="6.4"/><ellipse cx="529.21" cy="2052.18" rx="8.15" ry="6.4"/><ellipse cx="529.21" cy="2076.7" rx="8.15" ry="6.4"/><rect x="562.73" y="1978.62" width="4.1" height="122.6"/><ellipse cx="564.78" cy="1978.62" rx="8.15" ry="6.4"/><ellipse cx="564.78" cy="2052.18" rx="8.15" ry="6.4"/><ellipse cx="564.78" cy="2076.7" rx="8.15" ry="6.4"/><ellipse cx="564.78" cy="2101.22" rx="8.15" ry="6.4"/><rect x="598.3" y="1978.62" width="4.1" height="49.04"/><ellipse cx="600.35" cy="1978.62" rx="8.15" ry="6.4"/><ellipse cx="600.35" cy="2027.66" rx="8.15" ry="6.4"/><rect x="633.86" y="1978.62" width="4.1" height="98.08"/><ellipse cx="635.91" cy="1978.62" rx="8.15" ry="6.4"/><ellipse cx="635.91" cy="2027.66" rx="8.15" ry="6.4"/><ellipse cx="635.91" cy="2076.7" rx="8.15" ry="6.4"/><rect x="669.42" y="1978.62" width="4.1" height="122.6"/><ellipse cx="671.47" cy="1978.62" rx="8.15" ry="6.4"/><ellipse cx="671.47" cy="2027.66" rx="8.15" ry="6.4"/><ellipse cx="671.47" cy="2076.7" rx="8.15" ry="6.4"/><ellipse cx="671.47" cy="2101.22" rx="8.15" ry="6.4"/><rect x="704.99" y="1978.62" width="4.1" height="73.56"/><ellipse cx="707.04" cy="1978.62" rx="8.15" ry="6.4"/><ellipse cx="707.04" cy="2027.66" rx="8.15" ry="6.4"/><ellipse cx="707.04" cy="2052.18" rx="8.15" ry="6.4"/><rect x="740.56" y="1978.62" width="4.1" height="98.08"/><ellipse cx="742.61" cy="1978.62" rx="8.15" ry="6.4"/><ellipse cx="742.61" cy="2027.66" rx="8.15" ry="6.4"/><ellipse cx="742.61" cy="2052.18" rx="8.15" ry="6.4"/><ellipse cx="742.61" cy="2076.7" rx="8.15" ry="6.4"/><rect x="776.12" y="1978.62" width="4.1" height="122.6"/><ellipse cx="778.17" cy="1978.62" rx="8.15" ry="6.4"/><ellipse cx="778.17" cy="2027.66" rx="8.15" ry="6.4"/><ellipse cx="778.17" cy="2052.18" rx="8.15" ry="6.4"/><ellipse cx="778.17" cy="2076.7" rx="8.15" ry="6.4"/><ellipse cx="778.17" cy="2101.22" rx="8.15" ry="6.4"/><rect x="811.68" y="1954.1" width="4.1" height="147.12"/><ellipse cx="813.73" cy="1954.1" rx="8.15" ry="6.4"/><ellipse cx="813.73" cy="2052.18" rx="8.15" ry="6.4"/><ellipse cx="813.73" cy="2101.22" rx="8.15" ry="6.4"/><rect x="847.25" y="1954.1" width="4.1" height="147.12"/><ellipse cx="849.3" cy="1954.1" rx="8.15" ry="6.4"/><ellipse cx="849.3" cy="2003.14" rx="8.15" ry="6.4"/><ellipse cx="849.3" cy="2101.22" rx="8.15" ry="6.4"/><rect x="882.82" y="1954.1" width="4.1" height="122.6"/><ellipse cx="884.87" cy="1954.1" rx="8.15" ry="6.4"/><ellipse cx="884.87" cy="2003.14" rx="8.15" ry="6.4"/><ellipse cx="884.87" cy="2076.7" rx="8.15" ry="6.4"/><rect x="918.38" y="1954.1" width="4.1" height="147.12"/><ellipse cx="920.43" cy="1954.1" rx="8.15" ry="6.4"/><ellipse cx="920.43" cy="2003.14" rx="8.15" ry="6.4"/><ellipse cx="920.43" cy="2076.7" rx="8.15" ry="6.4"/><ellipse cx="920.43" cy="2101.22" rx="8.15" ry="6.4"/><rect x="953.94" y="1954.1" width="4.1" height="98.08"/><ellipse cx="955.99" cy="1954.1" rx="8.15" ry="6.4"/><ellipse cx="955.99" cy="2003.14" rx="8.15" ry="6.4"/><ellipse cx="955.99" cy="2052.18" rx="8.15" ry="6.4"/><rect x="989.51" y="1954.1" width="4.1" height="147.12"/><ellipse cx="991.56" cy="1954.1" rx="8.15" ry="6.4"/><ellipse cx="991.56" cy="2003.14" rx="8.15" ry="6.4"/><ellipse cx="991.56" cy="2052.18" rx="8.15" ry="6.4"/><ellipse cx="991.56" cy="2101.22" rx="8.15" ry="6.4"/><rect x="1025.08" y="1954.1" width="4.1" height="122.6"/><ellipse cx="1027.12" cy="1954.1" rx="8.15" ry="6.4"/><ellipse cx="1027.12" cy="2003.14" rx="8.15" ry="6.4"/><ellipse cx="1027.12" cy="2052.18" rx="8.15" ry="6.4"/><ellipse cx="1027.12" cy="2076.7" rx="8.15" ry="6.4"/><rect x="1060.64" y="1954.1" width="4.1" height="73.56"/><ellipse cx="1062.69" cy="1954.1" rx="8.15" ry="6.4"/><ellipse cx="1062.69" cy="2003.14" rx="8.15" ry="6.4"/><ellipse cx="1062.69" cy="2027.66" rx="8.15" ry="6.4"/><rect x="1096.2" y="1954.1" width="4.1" height="147.12"/><ellipse cx="1098.25" cy="1954.1" rx="8.15" ry="6.4"/><ellipse cx="1098.25" cy="2003.14" rx="8.15" ry="6.4"/><ellipse cx="1098.25" cy="2027.66" rx="8.15" ry="6.4"/><ellipse cx="1098.25" cy="2101.22" rx="8.15" ry="6.4"/><rect x="1131.77" y="1954.1" width="4.1" height="122.6"/><ellipse cx="1133.82" cy="1954.1" rx="8.15" ry="6.4"/><ellipse cx="1133.82" cy="2003.14" rx="8.15" ry="6.4"/><ellipse cx="1133.82" cy="2027.66" rx="8.15" ry="6.4"/><ellipse cx="1133.82" cy="2076.7" rx="8.15" ry="6.4"/><rect x="1167.34" y="1954.1" width="4.1" height="98.08"/><ellipse cx="1169.38" cy="1954.1" rx="8.15" ry="6.4"/><ellipse cx="1169.38" cy="2003.14" rx="8.15" ry="6.4"/><ellipse cx="1169.38" cy="2027.66" rx="8.15" ry="6.4"/><ellipse cx="1169.38" cy="2052.18" rx="8.15" ry="6.4"/><rect x="1202.9" y="1954.1" width="4.1" height="147.12"/><ellipse cx="1204.95" cy="1954.1" rx="8.15" ry="6.4"/><ellipse cx="1204.95" cy="1978.62" rx="8.15" ry="6.4"/><ellipse cx="1204.95" cy="2101.22" rx="8.15" ry="6.4"/><rect x="1238.46" y="1954.1" width="4.1" height="147.12"/><ellipse cx="1240.51" cy="1954.1" rx="8.15" ry="6.4"/><ellipse cx="1240.51" cy="1978.62" rx="8.15" ry="6.4"/><ellipse cx="1240.51" cy="2076.7" rx="8.15" ry="6.4"/><ellipse cx="1240.51" cy="2101.22" rx="8.15" ry="6.4"/><rect x="1274.03" y="1954.1" width="4.1" height="98.08"/><ellipse cx="1276.08" cy="1954.1" rx="8.15" ry="6.4"/><ellipse cx="1276.08" cy="1978.62" rx="8.15" ry="6.4"/><ellipse cx="1276.08" cy="2052.18" rx="8.15" ry="6.4"/><rect x="1309.6" y="1954.1" width="4.1" height="147.12"/><ellipse cx="1311.64" cy="1954.1" rx="8.15" ry="6.4"/><ellipse cx="1311.64" cy="1978.62" rx="8.15" ry="6.4"/><ellipse cx="1311.64" cy="2052.18" rx="8.15" ry="6.4"/><ellipse cx="1311.64" cy="2101.22" rx="8.15" ry="6.4"/><rect x="1345.16" y="1954.1" width="4.1" height="122.6"/><ellipse cx="1347.21" cy="1954.1" rx="8.15" ry="6.4"/><ellipse cx="1347.21" cy="1978.62" rx="8.15" ry="6.4"/><ellipse cx="1347.21" cy="2052.18" rx="8.15" ry="6.4"/><ellipse cx="1347.21" cy="2076.7" rx="8.15" ry="6.4"/><rect x="1380.72" y="1954.1" width="4.1" height="147.12"/><ellipse cx="1382.77" cy="1954.1" rx="8.15" ry="6.4"/><ellipse cx="1382.77" cy="1978.62" rx="8.15" ry="6.4"/><ellipse cx="1382.77" cy="2052.18" rx="8.15" ry="6.4"/><ellipse cx="1382.77" cy="2076.7" rx="8.15" ry="6.4"/><ellipse cx="1382.77" cy="2101.22" rx="8.15" ry="6.4"/><rect x="1416.29" y="1954.1" width="4.1" height="73.56"/><ellipse cx="1418.34" cy="1954.1" rx="8.15" ry="6.4"/><ellipse cx="1418.34" cy="1978.62" rx="8.15" ry="6.4"/><ellipse cx="1418.34" cy="2027.66" rx="8.15" ry="6.4"/><rect x="1451.86" y="1954.1" width="4.1" height="147.12"/><ellipse cx="1453.9" cy="1954.1" rx="8.15" ry="6.4"/><ellipse cx="1453.9" cy="1978.62" rx="8.15" ry="6.4"/><ellipse cx="1453.9" cy="2027.66" rx="8.15" ry="6.4"/><ellipse cx="1453.9" cy="2101.22" rx="8.15" ry="6.4"/><rect x="1487.42" y="1954.1" width="4.1" height="122.6"/><ellipse cx="1489.47" cy="1954.1" rx="8.15" ry="6.4"/><ellipse cx="1489.47" cy="1978.62" rx="8.15" ry="6.4"/><ellipse cx="1489.47" cy="2027.66" rx="8.15" ry="6.4"/><ellipse cx="1489.47" cy="2076.7" rx="8.15" ry="6.4"/><rect x="1522.98" y="1954.1" width="4.1" height="98.08"/><ellipse cx="1525.03" cy="1954.1" rx="8.15" ry="6.4"/><ellipse cx="1525.03" cy="1978.62" rx="8.15" ry="6.4"/><ellipse cx="1525.03" cy="2027.66" rx="8.15" ry="6.4"/><ellipse cx="1525.03" cy="2052.18" rx="8.15" ry="6.4"/><rect x="1558.55" y="1954.1" width="4.1" height="147.12"/><ellipse cx="1560.6" cy="1954.1" rx="8.15" ry="6.4"/><ellipse cx="1560.6" cy="1978.62" rx="8.15" ry="6.4"/><ellipse cx="1560.6" cy="2027.66" rx="8.15" ry="6.4"/><ellipse cx="1560.6" cy="2052.18" rx="8.15" ry="6.4"/><ellipse cx="1560.6" cy="2101.22" rx="8.15" ry="6.4"/><rect x="1594.12" y="1954.1" width="4.1" height="122.6"/><ellipse cx="1596.16" cy="1954.1" rx="8.15" ry="6.4"/><ellipse cx="1596.16" cy="1978.62" rx="8.15" ry="6.4"/><ellipse cx="1596.16" cy="2027.66" rx="8.15" ry="6.4"/><ellipse cx="1596.16" cy="2052.18" rx="8.15" ry="6.4"/><ellipse cx="1596.16" cy="2076.7" rx="8.15" ry="6.4"/></g>
<text transform="matrix(1.24 0 0 1 133.26 1931.1)" font-size="13.7" fill="#2b2b2b">0</text>
<text transform="matrix(1.24 0 0 1 168.83 1931.1)" font-size="13.7" fill="#2b2b2b">0</text>
<text transform="matrix(1.24 0 0 1 204.39 1931.1)" font-size="13.7" fill="#2b2b2b">0</text>
<text transform="matrix(1.24 0 0 1 239.96 1931.1)" font-size="13.7" fill="#2b2b2b">0</text>
<text transform="matrix(1.24 0 0 1 275.52 1931.1)" font-size="13.7" fill="#2b2b2b">0</text>
<text transform="matrix(1.24 0 0 1 311.09 1931.1)" font-size="13.7" fill="#2b2b2b">0</text>
<text transform="matrix(1.24 0 0 1 346.65 1931.1)" font-size="13.7" fill="#2b2b2b">0</text>
<text transform="matrix(1.24 0 0 1 382.22 1931.1)" font-size="13.7" fill="#2b2b2b">0</text>
<text transform="matrix(1.24 0 0 1 417.78 1931.1)" font-size="13.7" fill="#2b2b2b">0</text>
<text transform="matrix(1.24 0 0 1 453.35 1931.1)" font-size="13.7" fill="#2b2b2b">0</text>
<text transform="matrix(1.24 0 0 1 488.91 1931.1)" font-size="13.7" fill="#2b2b2b">0</text>
<text transform="matrix(1.24 0 0 1 524.48 1931.1)" font-size="13.7" fill="#2b2b2b">0</text>
<text transform="matrix(1.24 0 0 1 560.04 1931.1)" font-size="13.7" fill="#2b2b2b">0</text>
<text transform="matrix(1.24 0 0 1 595.61 1931.1)" font-size="13.7" fill="#2b2b2b">0</text>
<text transform="matrix(1.24 0 0 1 631.17 1931.1)" font-size="13.7" fill="#2b2b2b">0</text>
<text transform="matrix(1.24 0 0 1 666.74 1931.1)" font-size="13.7" fill="#2b2b2b">0</text>
<text transform="matrix(1.24 0 0 1 702.3 1931.1)" font-size="13.7" fill="#2b2b2b">0</text>
<text transform="matrix(1.24 0 0 1 737.87 1931.1)" font-size="13.7" fill="#2b2b2b">0</text>
<text transform="matrix(1.24 0 0 1 773.43 1931.1)" font-size="13.7" fill="#2b2b2b">0</text>
<text transform="matrix(1.24 0 0 1 809 1931.1)" font-size="13.7" fill="#2b2b2b">0</text>
<text transform="matrix(1.24 0 0 1 844.56 1931.1)" font-size="13.7" fill="#2b2b2b">0</text>
<text transform="matrix(1.24 0 0 1 880.13 1931.1)" font-size="13.7" fill="#2b2b2b">0</text>
<text transform="matrix(1.24 0 0 1 915.69 1931.1)" font-size="13.7" fill="#2b2b2b">0</text>
<text transform="matrix(1.24 0 0 1 951.26 1931.1)" font-size="13.7" fill="#2b2b2b">0</text>
<text transform="matrix(1.24 0 0 1 986.82 1931.1)" font-size="13.7" fill="#2b2b2b">0</text>
<text transform="matrix(1.24 0 0 1 1022.39 1931.1)" font-size="13.7" fill="#2b2b2b">0</text>
<text transform="matrix(1.24 0 0 1 1057.95 1931.1)" font-size="13.7" fill="#2b2b2b">0</text>
<text transform="matrix(1.24 0 0 1 1093.52 1931.1)" font-size="13.7" fill="#2b2b2b">0</text>
<text transform="matrix(1.24 0 0 1 1129.08 1931.1)" font-size="13.7" fill="#2b2b2b">0</text>
<text transform="matrix(1.24 0 0 1 1164.65 1931.1)" font-size="13.7" fill="#2b2b2b">0</text>
<text transform="matrix(1.24 0 0 1 1200.21 1931.1)" font-size="13.7" fill="#2b2b2b">0</text>
<text transform="matrix(1.24 0 0 1 1235.78 1931.1)" font-size="13.7" fill="#2b2b2b">0</text>
<text transform="matrix(1.24 0 0 1 1271.34 1931.1)" font-size="13.7" fill="#2b2b2b">0</text>
<text transform="matrix(1.24 0 0 1 1306.91 1931.1)" font-size="13.7" fill="#2b2b2b">0</text>
<text transform="matrix(1.24 0 0 1 1342.47 1931.1)" font-size="13.7" fill="#2b2b2b">0</text>
<text transform="matrix(1.24 0 0 1 1378.04 1931.1)" font-size="13.7" fill="#2b2b2b">0</text>
<text transform="matrix(1.24 0 0 1 1413.6 1931.1)" font-size="13.7" fill="#2b2b2b">0</text>
<text transform="matrix(1.24 0 0 1 1449.17 1931.1)" font-size="13.7" fill="#2b2b2b">0</text>
<text transform="matrix(1.24 0 0 1 1484.73 1931.1)" font-size="13.7" fill="#2b2b2b">0</text>
<text transform="matrix(1.24 0 0 1 1520.3 1931.1)" font-size="13.7" fill="#2b2b2b">0</text>
<text transform="matrix(1.24 0 0 1 1555.86 1931.1)" font-size="13.7" fill="#2b2b2b">0</text>
<text transform="matrix(1.24 0 0 1 1591.43 1931.1)" font-size="13.7" fill="#2b2b2b">0</text>
<text transform="matrix(1.32 0 0 1 92.55 1943.76)" font-size="15.3" fill="#4d4d4d">0</text>
<text transform="matrix(1.32 0 0 1 70.08 1812.76)" font-size="15.3" fill="#4d4d4d">500</text>
<text transform="matrix(1.32 0 0 1 58.87 1681.76)" font-size="15.3" fill="#4d4d4d">1000</text>
<text transform="matrix(1.32 0 0 1 58.87 1550.76)" font-size="15.3" fill="#4d4d4d">1500</text>
<text transform="matrix(1.36 0 0 1 41.43 1960)" font-size="15.5" fill="#111">Y_pes</text>
<text transform="matrix(1.31 0 0 1 40.82 1985.05)" font-size="15.5" fill="#111">M_bov</text>
<text transform="matrix(1.33 0 0 1 42.8 2010.1)" font-size="15.5" fill="#111">M_tub</text>
<text transform="matrix(1.33 0 0 1 44.24 2035.15)" font-size="15.5" fill="#111">Y_ent</text>
<text transform="matrix(1.31 0 0 1 34.63 2060.2)" font-size="15.5" fill="#111">M_para</text>
<text transform="matrix(1.31 0 0 1 34.14 2085.25)" font-size="15.5" fill="#111">Y_pseu</text>
<text transform="matrix(1.34 0 0 1 37.63 2110.3)" font-size="15.5" fill="#111">Y_fred</text>
<text transform="matrix(0 -0.7 1 0 18.78 1748.33)" font-size="24.66" fill="#111" stroke="#111" stroke-width=".35">No. of proteins</text>
</svg>
</body></html>
